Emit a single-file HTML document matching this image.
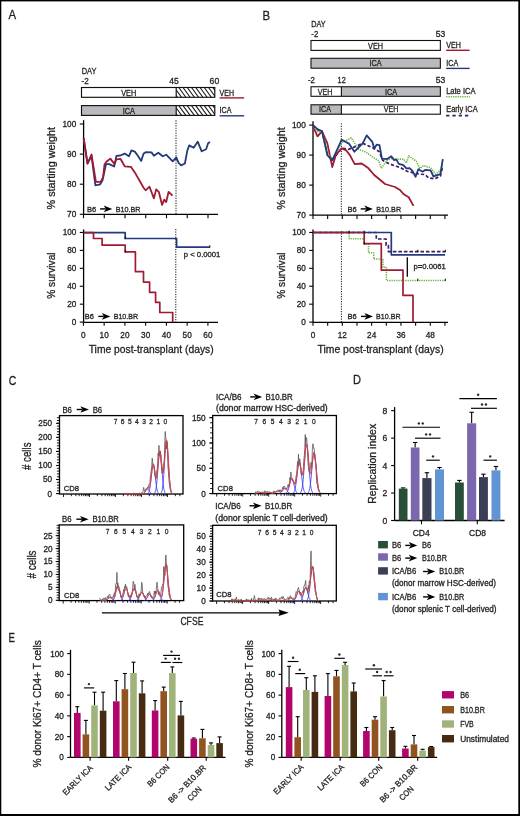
<!DOCTYPE html>
<html><head><meta charset="utf-8"><style>
html,body{margin:0;padding:0;background:#fff;width:520px;height:816px;overflow:hidden}
svg{display:block;font-family:"Liberation Sans",sans-serif;will-change:transform}
text{stroke:#231f20;stroke-width:0.3px}
</style></head><body>
<svg width="520" height="816" viewBox="0 0 520 816">
<rect width="520" height="816" fill="#fff"/>
<rect x="0" y="0" width="520" height="1.4" fill="#000"/>
<rect x="0" y="0" width="1.3" height="816" fill="#000"/>
<rect x="518.3" y="0" width="1.7" height="816" fill="#000"/>
<rect x="0" y="814" width="520" height="2" fill="#000"/>
<text x="8.6" y="19.4" font-size="13" textLength="7.6" lengthAdjust="spacingAndGlyphs" fill="#231f20">A</text>
<text x="262.5" y="19.5" font-size="13" textLength="7.6" lengthAdjust="spacingAndGlyphs" fill="#231f20">B</text>
<text x="8.7" y="384.5" font-size="13" textLength="7.6" lengthAdjust="spacingAndGlyphs" fill="#231f20">C</text>
<text x="353.1" y="384.4" font-size="13" textLength="8.0" lengthAdjust="spacingAndGlyphs" fill="#231f20">D</text>
<text x="8.6" y="642.1" font-size="13" textLength="6.4" lengthAdjust="spacingAndGlyphs" fill="#231f20">E</text>
<defs><pattern id="hat" patternUnits="userSpaceOnUse" width="4.2" height="4.2" patternTransform="rotate(-45)"><rect width="4.2" height="4.2" fill="#fff"/><line x1="0" y1="0" x2="0" y2="4.2" stroke="#222" stroke-width="1.1"/></pattern></defs>
<text x="81.7" y="74.4" font-size="9.2" textLength="14.8" lengthAdjust="spacingAndGlyphs" fill="#231f20">DAY</text>
<text x="81.5" y="84.3" font-size="8.2" textLength="7.2" lengthAdjust="spacingAndGlyphs" fill="#231f20">-2</text>
<text x="173.9" y="84.2" font-size="8.2" text-anchor="middle" textLength="9.5" lengthAdjust="spacingAndGlyphs" fill="#231f20">45</text>
<text x="214.4" y="84.2" font-size="8.2" text-anchor="middle" textLength="9.6" lengthAdjust="spacingAndGlyphs" fill="#231f20">60</text>
<rect x="81.5" y="87.5" width="94.7" height="9.8" fill="#fff"/>
<clipPath id="hc1"><rect x="176.2" y="87.5" width="38.60000000000002" height="9.799999999999997"/></clipPath>
<rect x="176.2" y="87.5" width="38.60000000000002" height="9.799999999999997" fill="#fff"/>
<path clip-path="url(#hc1)" d="M169.90,87.00L177.72,97.80M174.15,87.00L181.97,97.80M178.40,87.00L186.22,97.80M182.65,87.00L190.47,97.80M186.90,87.00L194.72,97.80M191.15,87.00L198.97,97.80M195.40,87.00L203.22,97.80M199.65,87.00L207.47,97.80M203.90,87.00L211.72,97.80M208.15,87.00L215.97,97.80M212.40,87.00L220.22,97.80" stroke="#1a1a1a" stroke-width="1.05" fill="none"/>
<rect x="81.5" y="87.5" width="133.3" height="9.8" fill="none" stroke="#111" stroke-width="1.15"/>
<line x1="176.2" y1="87.5" x2="176.2" y2="97.3" stroke="#111" stroke-width="1.15"/>
<text x="128.7" y="96.2" font-size="8.2" text-anchor="middle" textLength="15" lengthAdjust="spacingAndGlyphs" fill="#231f20">VEH</text>
<rect x="81.5" y="105.6" width="94.7" height="9.8" fill="#bababe"/>
<clipPath id="hc2"><rect x="176.2" y="105.6" width="38.60000000000002" height="9.800000000000011"/></clipPath>
<rect x="176.2" y="105.6" width="38.60000000000002" height="9.800000000000011" fill="#fff"/>
<path clip-path="url(#hc2)" d="M169.90,105.10L177.72,115.90M174.15,105.10L181.97,115.90M178.40,105.10L186.22,115.90M182.65,105.10L190.47,115.90M186.90,105.10L194.72,115.90M191.15,105.10L198.97,115.90M195.40,105.10L203.22,115.90M199.65,105.10L207.47,115.90M203.90,105.10L211.72,115.90M208.15,105.10L215.97,115.90M212.40,105.10L220.22,115.90" stroke="#1a1a1a" stroke-width="1.05" fill="none"/>
<rect x="81.5" y="105.6" width="133.3" height="9.8" fill="none" stroke="#111" stroke-width="1.15"/>
<line x1="176.2" y1="105.6" x2="176.2" y2="115.4" stroke="#111" stroke-width="1.15"/>
<text x="128.8" y="113.8" font-size="8.2" text-anchor="middle" textLength="12.3" lengthAdjust="spacingAndGlyphs" fill="#231f20">ICA</text>
<text x="219.6" y="95.6" font-size="8.2" textLength="14.4" lengthAdjust="spacingAndGlyphs" fill="#231f20">VEH</text>
<line x1="219.6" y1="97.9" x2="244.2" y2="97.9" stroke="#9e1b32" stroke-width="1.4"/>
<text x="219.6" y="112.9" font-size="8.2" textLength="11.9" lengthAdjust="spacingAndGlyphs" fill="#231f20">ICA</text>
<line x1="219.6" y1="115.8" x2="244.2" y2="115.8" stroke="#233a7c" stroke-width="1.4"/>
<line x1="83.6" y1="120.2" x2="83.6" y2="214.3" stroke="#000" stroke-width="1.3"/>
<line x1="83.6" y1="214.3" x2="218" y2="214.3" stroke="#000" stroke-width="1.3"/>
<line x1="79.8" y1="124.0" x2="83.6" y2="124.0" stroke="#000" stroke-width="1.1"/>
<text x="76.3" y="126.9" font-size="8.2" text-anchor="end" textLength="13.8" lengthAdjust="spacingAndGlyphs" fill="#231f20">100</text>
<line x1="79.8" y1="154.1" x2="83.6" y2="154.1" stroke="#000" stroke-width="1.1"/>
<text x="76.3" y="157.0" font-size="8.2" text-anchor="end" textLength="9.2" lengthAdjust="spacingAndGlyphs" fill="#231f20">90</text>
<line x1="79.8" y1="184.2" x2="83.6" y2="184.2" stroke="#000" stroke-width="1.1"/>
<text x="76.3" y="187.1" font-size="8.2" text-anchor="end" textLength="9.2" lengthAdjust="spacingAndGlyphs" fill="#231f20">80</text>
<line x1="79.8" y1="214.3" x2="83.6" y2="214.3" stroke="#000" stroke-width="1.1"/>
<text x="76.3" y="217.20000000000002" font-size="8.2" text-anchor="end" textLength="9.2" lengthAdjust="spacingAndGlyphs" fill="#231f20">70</text>
<line x1="83.5" y1="214.3" x2="83.5" y2="218.2" stroke="#000" stroke-width="1.1"/>
<line x1="104.25" y1="214.3" x2="104.25" y2="218.2" stroke="#000" stroke-width="1.1"/>
<line x1="125.0" y1="214.3" x2="125.0" y2="218.2" stroke="#000" stroke-width="1.1"/>
<line x1="145.75" y1="214.3" x2="145.75" y2="218.2" stroke="#000" stroke-width="1.1"/>
<line x1="166.5" y1="214.3" x2="166.5" y2="218.2" stroke="#000" stroke-width="1.1"/>
<line x1="187.25" y1="214.3" x2="187.25" y2="218.2" stroke="#000" stroke-width="1.1"/>
<line x1="208.0" y1="214.3" x2="208.0" y2="218.2" stroke="#000" stroke-width="1.1"/>
<text x="55.1" y="168.25" font-size="11" text-anchor="middle" textLength="82.5" lengthAdjust="spacingAndGlyphs" transform="rotate(-90 55.1 168.25)" fill="#231f20">% starting weight</text>
<line x1="176" y1="120.2" x2="176" y2="214.3" stroke="#111" stroke-width="1.0" stroke-dasharray="1.2 1.3"/>
<polyline points="83.65,138.20 87.50,163.70 91.50,156.00 95.40,185.30 100.20,184.30 102.60,180.00 106.00,164.10 109.30,164.10 114.10,166.50 116.50,155.80 120.40,155.50 124.70,153.60 128.90,156.30 131.40,150.40 134.80,151.60 137.70,155.50 141.20,160.90 143.60,153.50 146.10,152.10 151.50,152.40 153.90,155.70 158.30,152.70 162.70,156.30 166.20,154.70 172.70,161.30 176.30,157.40 178.70,163.20 181.10,165.40 184.90,163.50 187.30,150.70 189.20,145.40 193.60,147.80 197.70,141.70 201.70,151.30 206.10,149.20 208.00,143.50 209.90,141.80" fill="none" stroke="#233a7c" stroke-width="1.8" stroke-linejoin="round"/>
<polyline points="83.65,138.20 87.50,163.70 91.50,154.50 95.90,181.90 100.70,181.90 103.10,177.10 104.50,164.60 106.40,161.70 110.30,158.60 114.60,164.10 116.30,159.30 120.40,158.80 124.70,166.30 130.90,166.80 135.80,174.10 143.60,187.80 145.60,190.30 149.50,186.70 153.90,198.40 156.20,189.30 158.80,191.80 162.10,205.00 164.20,199.60 166.20,202.10 168.60,191.80 172.50,195.70" fill="none" stroke="#9e1b32" stroke-width="1.8" stroke-linejoin="round"/>
<text x="86.9" y="211.5" font-size="8" textLength="9.2" lengthAdjust="spacingAndGlyphs" fill="#231f20">B6</text>
<line x1="100.1" y1="208.9" x2="105.7" y2="208.9" stroke="#000" stroke-width="1.4"/>
<path d="M112.30,208.90 L103.70,205.60 L105.90,208.90 L103.70,212.20 Z" fill="#000"/>
<text x="115.7" y="211.5" font-size="8" textLength="24.8" lengthAdjust="spacingAndGlyphs" fill="#231f20">B10.BR</text>
<line x1="83.6" y1="229.5" x2="83.6" y2="322.4" stroke="#000" stroke-width="1.3"/>
<line x1="83.6" y1="322.4" x2="218" y2="322.4" stroke="#000" stroke-width="1.3"/>
<line x1="79.8" y1="232.45000000000005" x2="83.6" y2="232.45000000000005" stroke="#000" stroke-width="1.1"/>
<text x="76.3" y="235.35000000000005" font-size="8.2" text-anchor="end" fill="#231f20">100</text>
<line x1="79.8" y1="250.38000000000002" x2="83.6" y2="250.38000000000002" stroke="#000" stroke-width="1.1"/>
<text x="76.3" y="253.28000000000003" font-size="8.2" text-anchor="end" fill="#231f20">80</text>
<line x1="79.8" y1="268.31" x2="83.6" y2="268.31" stroke="#000" stroke-width="1.1"/>
<text x="76.3" y="271.21" font-size="8.2" text-anchor="end" fill="#231f20">60</text>
<line x1="79.8" y1="286.24" x2="83.6" y2="286.24" stroke="#000" stroke-width="1.1"/>
<text x="76.3" y="289.14" font-size="8.2" text-anchor="end" fill="#231f20">40</text>
<line x1="79.8" y1="304.17" x2="83.6" y2="304.17" stroke="#000" stroke-width="1.1"/>
<text x="76.3" y="307.07" font-size="8.2" text-anchor="end" fill="#231f20">20</text>
<line x1="79.8" y1="322.1" x2="83.6" y2="322.1" stroke="#000" stroke-width="1.1"/>
<text x="76.3" y="325.0" font-size="8.2" text-anchor="end" fill="#231f20">0</text>
<line x1="83.4" y1="322.4" x2="83.4" y2="325.8" stroke="#000" stroke-width="1.1"/>
<text x="83.4" y="337.5" font-size="8.2" text-anchor="middle" fill="#231f20">0</text>
<line x1="104.15" y1="322.4" x2="104.15" y2="325.8" stroke="#000" stroke-width="1.1"/>
<text x="104.15" y="337.5" font-size="8.2" text-anchor="middle" fill="#231f20">10</text>
<line x1="124.9" y1="322.4" x2="124.9" y2="325.8" stroke="#000" stroke-width="1.1"/>
<text x="124.9" y="337.5" font-size="8.2" text-anchor="middle" fill="#231f20">20</text>
<line x1="145.65" y1="322.4" x2="145.65" y2="325.8" stroke="#000" stroke-width="1.1"/>
<text x="145.65" y="337.5" font-size="8.2" text-anchor="middle" fill="#231f20">30</text>
<line x1="166.4" y1="322.4" x2="166.4" y2="325.8" stroke="#000" stroke-width="1.1"/>
<text x="166.4" y="337.5" font-size="8.2" text-anchor="middle" fill="#231f20">40</text>
<line x1="187.15" y1="322.4" x2="187.15" y2="325.8" stroke="#000" stroke-width="1.1"/>
<text x="187.15" y="337.5" font-size="8.2" text-anchor="middle" fill="#231f20">50</text>
<line x1="207.9" y1="322.4" x2="207.9" y2="325.8" stroke="#000" stroke-width="1.1"/>
<text x="207.9" y="337.5" font-size="8.2" text-anchor="middle" fill="#231f20">60</text>
<text x="151.2" y="352.6" font-size="11" text-anchor="middle" textLength="125" lengthAdjust="spacingAndGlyphs" fill="#231f20">Time post-transplant (days)</text>
<text x="55.1" y="275.6" font-size="11" text-anchor="middle" textLength="46.3" lengthAdjust="spacingAndGlyphs" transform="rotate(-90 55.1 275.6)" fill="#231f20">% survival</text>
<line x1="175.8" y1="229" x2="175.8" y2="322.4" stroke="#111" stroke-width="1.0" stroke-dasharray="1.2 1.3"/>
<polyline points="83.60,232.70 125.20,232.70 125.20,238.50 176.60,238.50 176.60,247.10 209.80,247.10" fill="none" stroke="#233a7c" stroke-width="1.7" stroke-linejoin="round"/>
<polyline points="83.60,232.70 93.50,232.70 93.50,238.50 102.10,238.50 102.10,245.20 125.20,245.20 125.20,251.90 135.40,251.90 135.40,271.70 143.50,271.70 143.50,282.10 149.60,282.10 149.60,292.30 155.60,292.30 155.60,302.30 159.80,302.30 159.80,312.50 172.70,312.50 172.70,322.30" fill="none" stroke="#9e1b32" stroke-width="1.7" stroke-linejoin="round"/>
<text x="183.8" y="257.1" font-size="7.6" textLength="36.6" lengthAdjust="spacingAndGlyphs" fill="#231f20">p &lt; 0.0001</text>
<line x1="125.2" y1="236.7" x2="125.2" y2="239.1" stroke="#000" stroke-width="1.0"/>
<line x1="125.2" y1="250.1" x2="125.2" y2="252.5" stroke="#000" stroke-width="1.0"/>
<line x1="209.8" y1="245.29999999999998" x2="209.8" y2="247.7" stroke="#000" stroke-width="1.0"/>
<text x="84.8" y="319.2" font-size="8" textLength="9.2" lengthAdjust="spacingAndGlyphs" fill="#231f20">B6</text>
<line x1="98.3" y1="316.4" x2="103.80000000000001" y2="316.4" stroke="#000" stroke-width="1.4"/>
<path d="M110.40,316.40 L101.80,313.10 L104.00,316.40 L101.80,319.70 Z" fill="#000"/>
<text x="113.7" y="319.2" font-size="8" textLength="24.4" lengthAdjust="spacingAndGlyphs" fill="#231f20">B10.BR</text>
<text x="311.3" y="26.6" font-size="9.2" textLength="14.4" lengthAdjust="spacingAndGlyphs" fill="#231f20">DAY</text>
<text x="311.3" y="37.1" font-size="8.2" textLength="6.9" lengthAdjust="spacingAndGlyphs" fill="#231f20">-2</text>
<text x="440.5" y="37.1" font-size="8.2" text-anchor="middle" textLength="9.5" lengthAdjust="spacingAndGlyphs" fill="#231f20">53</text>
<rect x="311.0" y="40.5" width="129.35" height="9.9" fill="#fff" stroke="#111" stroke-width="1.1"/>
<text x="375.6" y="48.6" font-size="8.2" text-anchor="middle" textLength="15" lengthAdjust="spacingAndGlyphs" fill="#231f20">VEH</text>
<rect x="311.0" y="58.3" width="129.35" height="9.9" fill="#bababe" stroke="#111" stroke-width="1.1"/>
<text x="375.6" y="66.2" font-size="8.2" text-anchor="middle" textLength="12.2" lengthAdjust="spacingAndGlyphs" fill="#231f20">ICA</text>
<text x="446.2" y="47.8" font-size="8.2" textLength="14.6" lengthAdjust="spacingAndGlyphs" fill="#231f20">VEH</text>
<line x1="446.1" y1="50.3" x2="469.6" y2="50.3" stroke="#9e1b32" stroke-width="1.4"/>
<text x="446.2" y="65.8" font-size="8.2" textLength="12.0" lengthAdjust="spacingAndGlyphs" fill="#231f20">ICA</text>
<line x1="446.1" y1="68.4" x2="469.6" y2="68.4" stroke="#233a7c" stroke-width="1.4"/>
<text x="308.0" y="83.2" font-size="8.2" textLength="6.9" lengthAdjust="spacingAndGlyphs" fill="#231f20">-2</text>
<text x="337.6" y="83.2" font-size="8.2" textLength="8.1" lengthAdjust="spacingAndGlyphs" fill="#231f20">12</text>
<text x="440.5" y="83.2" font-size="8.2" text-anchor="middle" textLength="9.5" lengthAdjust="spacingAndGlyphs" fill="#231f20">53</text>
<rect x="311.0" y="86.75" width="30.4" height="9.55" fill="#fff"/>
<rect x="341.4" y="86.75" width="98.95" height="9.55" fill="#bababe"/>
<rect x="311.0" y="86.75" width="129.35" height="9.55" fill="none" stroke="#111" stroke-width="1.1"/>
<line x1="341.4" y1="86.75" x2="341.4" y2="96.3" stroke="#111" stroke-width="1.1"/>
<text x="325.1" y="95.0" font-size="8.2" text-anchor="middle" textLength="14.6" lengthAdjust="spacingAndGlyphs" fill="#231f20">VEH</text>
<text x="391.0" y="95.0" font-size="8.2" text-anchor="middle" textLength="12.2" lengthAdjust="spacingAndGlyphs" fill="#231f20">ICA</text>
<rect x="311.0" y="104.8" width="30.4" height="9.4" fill="#bababe"/>
<rect x="341.4" y="104.8" width="98.95" height="9.4" fill="#fff"/>
<rect x="311.0" y="104.8" width="129.35" height="9.4" fill="none" stroke="#111" stroke-width="1.1"/>
<line x1="341.4" y1="104.8" x2="341.4" y2="114.2" stroke="#111" stroke-width="1.1"/>
<text x="325.0" y="112.4" font-size="8.2" text-anchor="middle" textLength="11.9" lengthAdjust="spacingAndGlyphs" fill="#231f20">ICA</text>
<text x="391.0" y="112.4" font-size="8.2" text-anchor="middle" textLength="14.6" lengthAdjust="spacingAndGlyphs" fill="#231f20">VEH</text>
<text x="446.2" y="94.1" font-size="8.2" textLength="29.2" lengthAdjust="spacingAndGlyphs" fill="#231f20">Late ICA</text>
<line x1="446.1" y1="96.7" x2="470" y2="96.7" stroke="#6db443" stroke-width="1.5" stroke-dasharray="1.3 1.0"/>
<text x="446.2" y="112.2" font-size="8.2" textLength="31.5" lengthAdjust="spacingAndGlyphs" fill="#231f20">Early ICA</text>
<line x1="446.1" y1="115.7" x2="469.5" y2="115.7" stroke="#3d1c63" stroke-width="1.7" stroke-dasharray="3.3 3.0"/>
<line x1="313.0" y1="121.2" x2="313.0" y2="215.1" stroke="#000" stroke-width="1.3"/>
<line x1="313.0" y1="215.1" x2="448" y2="215.1" stroke="#000" stroke-width="1.3"/>
<line x1="309.2" y1="125.1" x2="313.0" y2="125.1" stroke="#000" stroke-width="1.1"/>
<text x="305.8" y="128.0" font-size="8.2" text-anchor="end" textLength="13.8" lengthAdjust="spacingAndGlyphs" fill="#231f20">100</text>
<line x1="309.2" y1="155.1" x2="313.0" y2="155.1" stroke="#000" stroke-width="1.1"/>
<text x="305.8" y="158.0" font-size="8.2" text-anchor="end" textLength="9.2" lengthAdjust="spacingAndGlyphs" fill="#231f20">90</text>
<line x1="309.2" y1="185.1" x2="313.0" y2="185.1" stroke="#000" stroke-width="1.1"/>
<text x="305.8" y="188.0" font-size="8.2" text-anchor="end" textLength="9.2" lengthAdjust="spacingAndGlyphs" fill="#231f20">80</text>
<line x1="309.2" y1="215.1" x2="313.0" y2="215.1" stroke="#000" stroke-width="1.1"/>
<text x="305.8" y="218.0" font-size="8.2" text-anchor="end" textLength="9.2" lengthAdjust="spacingAndGlyphs" fill="#231f20">70</text>
<line x1="313.0" y1="215.1" x2="313.0" y2="219" stroke="#000" stroke-width="1.1"/>
<line x1="327.66" y1="215.1" x2="327.66" y2="219" stroke="#000" stroke-width="1.1"/>
<line x1="342.32" y1="215.1" x2="342.32" y2="219" stroke="#000" stroke-width="1.1"/>
<line x1="356.98" y1="215.1" x2="356.98" y2="219" stroke="#000" stroke-width="1.1"/>
<line x1="371.64" y1="215.1" x2="371.64" y2="219" stroke="#000" stroke-width="1.1"/>
<line x1="386.3" y1="215.1" x2="386.3" y2="219" stroke="#000" stroke-width="1.1"/>
<line x1="400.96000000000004" y1="215.1" x2="400.96000000000004" y2="219" stroke="#000" stroke-width="1.1"/>
<line x1="415.62" y1="215.1" x2="415.62" y2="219" stroke="#000" stroke-width="1.1"/>
<line x1="430.28" y1="215.1" x2="430.28" y2="219" stroke="#000" stroke-width="1.1"/>
<line x1="444.94" y1="215.1" x2="444.94" y2="219" stroke="#000" stroke-width="1.1"/>
<text x="284.6" y="168.4" font-size="11" text-anchor="middle" textLength="82.5" lengthAdjust="spacingAndGlyphs" transform="rotate(-90 284.6 168.4)" fill="#231f20">% starting weight</text>
<line x1="341.3" y1="123.4" x2="341.3" y2="215.1" stroke="#111" stroke-width="1.0" stroke-dasharray="1.2 1.3"/>
<polyline points="312.90,125.50 318.20,130.00 322.00,131.20 327.30,154.00 332.30,160.00 341.70,148.20 348.50,149.30 352.30,147.90 362.70,143.30 372.30,147.60 379.00,151.40 382.90,160.60 389.60,163.90 396.30,166.30 400.00,167.40 407.20,171.30 419.20,174.10 425.00,174.60 428.80,178.00 434.60,178.90 440.40,176.10 442.80,166.00" fill="none" stroke="#3d1c63" stroke-width="1.7" stroke-linejoin="round" stroke-dasharray="3.3 2.0" stroke-linejoin="miter"/>
<polyline points="312.90,125.80 317.50,136.30 322.00,131.30 327.30,143.10 332.30,167.10 336.00,154.60 341.70,148.40 346.10,150.30 349.90,155.10 354.70,164.20 361.70,163.50 368.50,168.30 374.20,175.00 380.00,179.80 385.00,184.00 395.00,187.00 400.00,190.00 403.80,194.30 408.70,197.20 413.50,205.90" fill="none" stroke="#9e1b32" stroke-width="1.8" stroke-linejoin="round"/>
<polyline points="312.90,125.80 318.70,132.50 322.00,131.50 328.30,153.70 332.30,159.40 341.70,142.60 351.30,137.80 355.70,145.00 358.80,149.50 365.60,151.90 372.30,156.70 379.00,161.10 381.40,168.30 386.70,160.60 392.00,158.20 398.30,159.10 403.80,159.20 406.30,163.10 408.70,155.90 416.30,161.20 419.70,168.40 423.60,165.50 430.80,167.90 435.60,174.10 440.40,170.30 442.30,165.50" fill="none" stroke="#6db443" stroke-width="1.6" stroke-linejoin="round" stroke-dasharray="1.3 1.0"/>
<polyline points="312.90,125.30 318.20,129.60 322.00,131.10 327.30,155.10 332.30,160.40 341.70,139.70 348.90,143.60 354.40,151.70 362.70,143.30 366.70,135.40 372.30,141.80 374.20,148.60 376.60,144.70 379.50,145.20 381.90,158.70 387.20,159.10 391.30,156.30 393.90,160.10 396.30,159.60 398.80,163.90 403.40,165.20 406.30,168.40 409.60,168.10 412.00,170.30 415.60,176.70 418.30,169.30 422.60,171.70 425.50,169.80 430.60,170.30 433.50,176.50 435.60,175.60 440.40,174.10 442.80,159.20" fill="none" stroke="#233a7c" stroke-width="1.8" stroke-linejoin="round"/>
<text x="347.5" y="211.6" font-size="8" textLength="9.2" lengthAdjust="spacingAndGlyphs" fill="#231f20">B6</text>
<line x1="360.7" y1="208.9" x2="366.29999999999995" y2="208.9" stroke="#000" stroke-width="1.4"/>
<path d="M372.90,208.90 L364.30,205.60 L366.50,208.90 L364.30,212.20 Z" fill="#000"/>
<text x="376.3" y="211.6" font-size="8" textLength="24.8" lengthAdjust="spacingAndGlyphs" fill="#231f20">B10.BR</text>
<line x1="313.0" y1="229.5" x2="313.0" y2="322.4" stroke="#000" stroke-width="1.3"/>
<line x1="313.0" y1="322.4" x2="448" y2="322.4" stroke="#000" stroke-width="1.3"/>
<line x1="309.2" y1="232.45000000000005" x2="313.0" y2="232.45000000000005" stroke="#000" stroke-width="1.1"/>
<text x="305.8" y="235.35000000000005" font-size="8.2" text-anchor="end" fill="#231f20">100</text>
<line x1="309.2" y1="250.38000000000002" x2="313.0" y2="250.38000000000002" stroke="#000" stroke-width="1.1"/>
<text x="305.8" y="253.28000000000003" font-size="8.2" text-anchor="end" fill="#231f20">80</text>
<line x1="309.2" y1="268.31" x2="313.0" y2="268.31" stroke="#000" stroke-width="1.1"/>
<text x="305.8" y="271.21" font-size="8.2" text-anchor="end" fill="#231f20">60</text>
<line x1="309.2" y1="286.24" x2="313.0" y2="286.24" stroke="#000" stroke-width="1.1"/>
<text x="305.8" y="289.14" font-size="8.2" text-anchor="end" fill="#231f20">40</text>
<line x1="309.2" y1="304.17" x2="313.0" y2="304.17" stroke="#000" stroke-width="1.1"/>
<text x="305.8" y="307.07" font-size="8.2" text-anchor="end" fill="#231f20">20</text>
<line x1="309.2" y1="322.1" x2="313.0" y2="322.1" stroke="#000" stroke-width="1.1"/>
<text x="305.8" y="325.0" font-size="8.2" text-anchor="end" fill="#231f20">0</text>
<line x1="313.0" y1="322.4" x2="313.0" y2="325.8" stroke="#000" stroke-width="1.1"/>
<text x="313.0" y="337.5" font-size="8.2" text-anchor="middle" fill="#231f20">0</text>
<line x1="327.66" y1="322.4" x2="327.66" y2="325.8" stroke="#000" stroke-width="1.1"/>
<line x1="342.32" y1="322.4" x2="342.32" y2="325.8" stroke="#000" stroke-width="1.1"/>
<text x="342.32" y="337.5" font-size="8.2" text-anchor="middle" fill="#231f20">12</text>
<line x1="356.98" y1="322.4" x2="356.98" y2="325.8" stroke="#000" stroke-width="1.1"/>
<line x1="371.64" y1="322.4" x2="371.64" y2="325.8" stroke="#000" stroke-width="1.1"/>
<text x="371.64" y="337.5" font-size="8.2" text-anchor="middle" fill="#231f20">24</text>
<line x1="386.3" y1="322.4" x2="386.3" y2="325.8" stroke="#000" stroke-width="1.1"/>
<line x1="400.96000000000004" y1="322.4" x2="400.96000000000004" y2="325.8" stroke="#000" stroke-width="1.1"/>
<text x="400.96000000000004" y="337.5" font-size="8.2" text-anchor="middle" fill="#231f20">36</text>
<line x1="415.62" y1="322.4" x2="415.62" y2="325.8" stroke="#000" stroke-width="1.1"/>
<line x1="430.28" y1="322.4" x2="430.28" y2="325.8" stroke="#000" stroke-width="1.1"/>
<text x="430.28" y="337.5" font-size="8.2" text-anchor="middle" fill="#231f20">48</text>
<line x1="444.94" y1="322.4" x2="444.94" y2="325.8" stroke="#000" stroke-width="1.1"/>
<text x="380.6" y="352.6" font-size="11" text-anchor="middle" textLength="126.2" lengthAdjust="spacingAndGlyphs" fill="#231f20">Time post-transplant (days)</text>
<text x="284.6" y="275.6" font-size="11" text-anchor="middle" textLength="46.3" lengthAdjust="spacingAndGlyphs" transform="rotate(-90 284.6 275.6)" fill="#231f20">% survival</text>
<line x1="341.4" y1="231" x2="341.4" y2="322.4" stroke="#111" stroke-width="1.0" stroke-dasharray="1.2 1.3"/>
<polyline points="313.00,232.50 349.20,232.50 349.20,238.70 364.20,238.70 364.20,244.10 368.50,244.10 368.50,252.80 373.70,252.80 373.70,259.10 383.00,259.10 383.00,267.20 386.40,267.20 386.40,280.50 445.10,280.50" fill="none" stroke="#6db443" stroke-width="1.5" stroke-linejoin="round" stroke-dasharray="1.3 1.0"/>
<polyline points="313.00,232.50 376.30,232.50 376.30,239.00 386.10,239.00 386.10,245.30 388.40,245.30 388.40,251.60 445.10,251.60" fill="none" stroke="#3d1c63" stroke-width="1.7" stroke-linejoin="round" stroke-dasharray="3.6 1.9" stroke-linejoin="miter"/>
<polyline points="313.00,232.50 391.30,232.50 391.30,254.80 445.10,254.80" fill="none" stroke="#233a7c" stroke-width="1.7" stroke-linejoin="round"/>
<polyline points="313.00,232.50 364.20,232.50 364.20,243.60 381.30,243.60 381.30,270.10 403.00,270.10 403.00,295.40 413.00,295.40 413.00,322.30" fill="none" stroke="#9e1b32" stroke-width="1.7" stroke-linejoin="round"/>
<line x1="407.3" y1="257.2" x2="407.3" y2="276.8" stroke="#000" stroke-width="1.3"/>
<text x="413.6" y="269.4" font-size="7.6" textLength="32.2" lengthAdjust="spacingAndGlyphs" fill="#231f20">p=0.0061</text>
<text x="347.5" y="319.2" font-size="8" textLength="9.2" lengthAdjust="spacingAndGlyphs" fill="#231f20">B6</text>
<line x1="361.0" y1="316.4" x2="366.4" y2="316.4" stroke="#000" stroke-width="1.4"/>
<path d="M373.00,316.40 L364.40,313.10 L366.60,316.40 L364.40,319.70 Z" fill="#000"/>
<text x="376.1" y="319.2" font-size="8" textLength="24.4" lengthAdjust="spacingAndGlyphs" fill="#231f20">B10.BR</text>
<line x1="349.2" y1="230.7" x2="349.2" y2="233.1" stroke="#000" stroke-width="1.0"/>
<line x1="364.2" y1="230.7" x2="364.2" y2="233.1" stroke="#000" stroke-width="1.0"/>
<line x1="364.2" y1="242.29999999999998" x2="364.2" y2="244.7" stroke="#000" stroke-width="1.0"/>
<line x1="417.8" y1="249.79999999999998" x2="417.8" y2="252.2" stroke="#000" stroke-width="1.0"/>
<line x1="445.3" y1="249.79999999999998" x2="445.3" y2="252.2" stroke="#000" stroke-width="1.0"/>
<line x1="417.8" y1="278.7" x2="417.8" y2="281.1" stroke="#000" stroke-width="1.0"/>
<line x1="445.3" y1="278.7" x2="445.3" y2="281.1" stroke="#000" stroke-width="1.0"/>
<text x="62.4" y="412.5" font-size="8.2" textLength="9.5" lengthAdjust="spacingAndGlyphs" fill="#231f20">B6</text>
<line x1="76.7" y1="409.5" x2="82.30000000000001" y2="409.5" stroke="#000" stroke-width="1.4"/>
<path d="M88.90,409.50 L80.30,406.20 L82.50,409.50 L80.30,412.80 Z" fill="#000"/>
<text x="92.7" y="412.5" font-size="8.2" textLength="9.5" lengthAdjust="spacingAndGlyphs" fill="#231f20">B6</text>
<rect x="59.5" y="415.6" width="123.5" height="78.39999999999998" fill="#fff" stroke="#000" stroke-width="1.3"/>
<line x1="56.0" y1="493.6" x2="59.5" y2="493.6" stroke="#000" stroke-width="1.0"/>
<text x="52.0" y="496.5" font-size="8.2" text-anchor="end" fill="#231f20">0</text>
<line x1="56.0" y1="479.54" x2="59.5" y2="479.54" stroke="#000" stroke-width="1.0"/>
<text x="52.0" y="482.44" font-size="8.2" text-anchor="end" fill="#231f20">50</text>
<line x1="56.0" y1="465.48" x2="59.5" y2="465.48" stroke="#000" stroke-width="1.0"/>
<text x="52.0" y="468.38" font-size="8.2" text-anchor="end" fill="#231f20">100</text>
<line x1="56.0" y1="451.42" x2="59.5" y2="451.42" stroke="#000" stroke-width="1.0"/>
<text x="52.0" y="454.32" font-size="8.2" text-anchor="end" fill="#231f20">150</text>
<line x1="56.0" y1="437.36" x2="59.5" y2="437.36" stroke="#000" stroke-width="1.0"/>
<text x="52.0" y="440.26" font-size="8.2" text-anchor="end" fill="#231f20">200</text>
<line x1="56.0" y1="423.3" x2="59.5" y2="423.3" stroke="#000" stroke-width="1.0"/>
<text x="52.0" y="426.2" font-size="8.2" text-anchor="end" fill="#231f20">250</text>
<line x1="56.9" y1="493.6" x2="59.5" y2="493.6" stroke="#000" stroke-width="0.9"/>
<line x1="56.9" y1="490.788" x2="59.5" y2="490.788" stroke="#000" stroke-width="0.9"/>
<line x1="56.9" y1="487.976" x2="59.5" y2="487.976" stroke="#000" stroke-width="0.9"/>
<line x1="56.9" y1="485.164" x2="59.5" y2="485.164" stroke="#000" stroke-width="0.9"/>
<line x1="56.9" y1="482.352" x2="59.5" y2="482.352" stroke="#000" stroke-width="0.9"/>
<line x1="56.9" y1="479.53999999999996" x2="59.5" y2="479.53999999999996" stroke="#000" stroke-width="0.9"/>
<line x1="56.9" y1="476.72799999999995" x2="59.5" y2="476.72799999999995" stroke="#000" stroke-width="0.9"/>
<line x1="56.9" y1="473.91599999999994" x2="59.5" y2="473.91599999999994" stroke="#000" stroke-width="0.9"/>
<line x1="56.9" y1="471.1039999999999" x2="59.5" y2="471.1039999999999" stroke="#000" stroke-width="0.9"/>
<line x1="56.9" y1="468.2919999999999" x2="59.5" y2="468.2919999999999" stroke="#000" stroke-width="0.9"/>
<line x1="56.9" y1="465.4799999999999" x2="59.5" y2="465.4799999999999" stroke="#000" stroke-width="0.9"/>
<line x1="56.9" y1="462.6679999999999" x2="59.5" y2="462.6679999999999" stroke="#000" stroke-width="0.9"/>
<line x1="56.9" y1="459.8559999999999" x2="59.5" y2="459.8559999999999" stroke="#000" stroke-width="0.9"/>
<line x1="56.9" y1="457.04399999999987" x2="59.5" y2="457.04399999999987" stroke="#000" stroke-width="0.9"/>
<line x1="56.9" y1="454.23199999999986" x2="59.5" y2="454.23199999999986" stroke="#000" stroke-width="0.9"/>
<line x1="56.9" y1="451.41999999999985" x2="59.5" y2="451.41999999999985" stroke="#000" stroke-width="0.9"/>
<line x1="56.9" y1="448.60799999999983" x2="59.5" y2="448.60799999999983" stroke="#000" stroke-width="0.9"/>
<line x1="56.9" y1="445.7959999999998" x2="59.5" y2="445.7959999999998" stroke="#000" stroke-width="0.9"/>
<line x1="56.9" y1="442.9839999999998" x2="59.5" y2="442.9839999999998" stroke="#000" stroke-width="0.9"/>
<line x1="56.9" y1="440.1719999999998" x2="59.5" y2="440.1719999999998" stroke="#000" stroke-width="0.9"/>
<line x1="56.9" y1="437.3599999999998" x2="59.5" y2="437.3599999999998" stroke="#000" stroke-width="0.9"/>
<line x1="56.9" y1="434.5479999999998" x2="59.5" y2="434.5479999999998" stroke="#000" stroke-width="0.9"/>
<line x1="56.9" y1="431.73599999999976" x2="59.5" y2="431.73599999999976" stroke="#000" stroke-width="0.9"/>
<line x1="56.9" y1="428.92399999999975" x2="59.5" y2="428.92399999999975" stroke="#000" stroke-width="0.9"/>
<line x1="56.9" y1="426.11199999999974" x2="59.5" y2="426.11199999999974" stroke="#000" stroke-width="0.9"/>
<line x1="56.9" y1="423.2999999999997" x2="59.5" y2="423.2999999999997" stroke="#000" stroke-width="0.9"/>
<line x1="56.9" y1="420.4879999999997" x2="59.5" y2="420.4879999999997" stroke="#000" stroke-width="0.9"/>
<line x1="56.9" y1="417.6759999999997" x2="59.5" y2="417.6759999999997" stroke="#000" stroke-width="0.9"/>
<line x1="63.5" y1="494.0" x2="63.5" y2="497.0" stroke="#000" stroke-width="0.85"/>
<line x1="71.32677988726351" y1="494.0" x2="71.32677988726351" y2="496.2" stroke="#000" stroke-width="0.85"/>
<line x1="75.90515262271123" y1="494.0" x2="75.90515262271123" y2="496.2" stroke="#000" stroke-width="0.85"/>
<line x1="79.15355977452703" y1="494.0" x2="79.15355977452703" y2="496.2" stroke="#000" stroke-width="0.85"/>
<line x1="81.67322011273649" y1="494.0" x2="81.67322011273649" y2="496.2" stroke="#000" stroke-width="0.85"/>
<line x1="83.73193250997474" y1="494.0" x2="83.73193250997474" y2="496.2" stroke="#000" stroke-width="0.85"/>
<line x1="85.47254904037068" y1="494.0" x2="85.47254904037068" y2="496.2" stroke="#000" stroke-width="0.85"/>
<line x1="86.98033966179054" y1="494.0" x2="86.98033966179054" y2="496.2" stroke="#000" stroke-width="0.85"/>
<line x1="88.31030524542246" y1="494.0" x2="88.31030524542246" y2="496.2" stroke="#000" stroke-width="0.85"/>
<line x1="89.5" y1="494.0" x2="89.5" y2="497.0" stroke="#000" stroke-width="0.85"/>
<line x1="97.32677988726351" y1="494.0" x2="97.32677988726351" y2="496.2" stroke="#000" stroke-width="0.85"/>
<line x1="101.90515262271123" y1="494.0" x2="101.90515262271123" y2="496.2" stroke="#000" stroke-width="0.85"/>
<line x1="105.15355977452703" y1="494.0" x2="105.15355977452703" y2="496.2" stroke="#000" stroke-width="0.85"/>
<line x1="107.67322011273649" y1="494.0" x2="107.67322011273649" y2="496.2" stroke="#000" stroke-width="0.85"/>
<line x1="109.73193250997474" y1="494.0" x2="109.73193250997474" y2="496.2" stroke="#000" stroke-width="0.85"/>
<line x1="111.47254904037068" y1="494.0" x2="111.47254904037068" y2="496.2" stroke="#000" stroke-width="0.85"/>
<line x1="112.98033966179054" y1="494.0" x2="112.98033966179054" y2="496.2" stroke="#000" stroke-width="0.85"/>
<line x1="114.31030524542246" y1="494.0" x2="114.31030524542246" y2="496.2" stroke="#000" stroke-width="0.85"/>
<line x1="115.5" y1="494.0" x2="115.5" y2="497.0" stroke="#000" stroke-width="0.85"/>
<line x1="123.32677988726351" y1="494.0" x2="123.32677988726351" y2="496.2" stroke="#000" stroke-width="0.85"/>
<line x1="127.90515262271123" y1="494.0" x2="127.90515262271123" y2="496.2" stroke="#000" stroke-width="0.85"/>
<line x1="131.15355977452703" y1="494.0" x2="131.15355977452703" y2="496.2" stroke="#000" stroke-width="0.85"/>
<line x1="133.6732201127365" y1="494.0" x2="133.6732201127365" y2="496.2" stroke="#000" stroke-width="0.85"/>
<line x1="135.73193250997474" y1="494.0" x2="135.73193250997474" y2="496.2" stroke="#000" stroke-width="0.85"/>
<line x1="137.47254904037067" y1="494.0" x2="137.47254904037067" y2="496.2" stroke="#000" stroke-width="0.85"/>
<line x1="138.98033966179054" y1="494.0" x2="138.98033966179054" y2="496.2" stroke="#000" stroke-width="0.85"/>
<line x1="140.31030524542246" y1="494.0" x2="140.31030524542246" y2="496.2" stroke="#000" stroke-width="0.85"/>
<line x1="141.5" y1="494.0" x2="141.5" y2="497.0" stroke="#000" stroke-width="0.85"/>
<line x1="149.3267798872635" y1="494.0" x2="149.3267798872635" y2="496.2" stroke="#000" stroke-width="0.85"/>
<line x1="153.90515262271123" y1="494.0" x2="153.90515262271123" y2="496.2" stroke="#000" stroke-width="0.85"/>
<line x1="157.15355977452703" y1="494.0" x2="157.15355977452703" y2="496.2" stroke="#000" stroke-width="0.85"/>
<line x1="159.6732201127365" y1="494.0" x2="159.6732201127365" y2="496.2" stroke="#000" stroke-width="0.85"/>
<line x1="161.73193250997474" y1="494.0" x2="161.73193250997474" y2="496.2" stroke="#000" stroke-width="0.85"/>
<line x1="163.47254904037067" y1="494.0" x2="163.47254904037067" y2="496.2" stroke="#000" stroke-width="0.85"/>
<line x1="164.98033966179054" y1="494.0" x2="164.98033966179054" y2="496.2" stroke="#000" stroke-width="0.85"/>
<line x1="166.31030524542246" y1="494.0" x2="166.31030524542246" y2="496.2" stroke="#000" stroke-width="0.85"/>
<line x1="167.5" y1="494.0" x2="167.5" y2="497.0" stroke="#000" stroke-width="0.85"/>
<line x1="175.3267798872635" y1="494.0" x2="175.3267798872635" y2="496.2" stroke="#000" stroke-width="0.85"/>
<line x1="179.90515262271123" y1="494.0" x2="179.90515262271123" y2="496.2" stroke="#000" stroke-width="0.85"/>
<polyline points="160.50,493.63 161.00,493.18 161.50,492.31 162.00,490.73 162.50,488.11 163.00,484.10 163.50,478.48 164.00,471.28 164.50,462.97 165.00,454.46 165.50,446.98 166.00,441.84 166.50,440.00 167.00,441.84 167.50,446.98 168.00,454.46 168.50,462.97 169.00,471.28 169.50,478.48 170.00,484.10 170.50,488.11 171.00,490.73 171.50,492.31 172.00,493.18 172.50,493.63" fill="none" stroke="#3434f0" stroke-width="0.8" stroke-linejoin="round"/>
<polyline points="154.00,493.65 154.50,493.24 155.00,492.45 155.50,491.06 156.00,488.77 156.50,485.33 157.00,480.58 157.50,474.64 158.00,467.92 158.50,461.22 159.00,455.56 159.50,451.94 160.00,451.06 160.50,453.09 161.00,457.63 161.50,463.84 162.00,470.65 162.50,477.14 163.00,482.64 163.50,486.86 164.00,489.81 164.50,491.71 165.00,492.83 165.50,493.44" fill="none" stroke="#3434f0" stroke-width="0.8" stroke-linejoin="round"/>
<polyline points="147.50,493.72 148.00,493.39 148.50,492.77 149.00,491.68 149.50,489.94 150.00,487.36 150.50,483.87 151.00,479.58 151.50,474.85 152.00,470.26 152.50,466.54 153.00,464.37 153.50,464.17 154.00,465.97 154.50,469.42 155.00,473.90 155.50,478.65 156.00,483.07 156.50,486.74 157.00,489.50 157.50,491.39 158.00,492.59 158.50,493.29 159.00,493.67" fill="none" stroke="#3434f0" stroke-width="0.8" stroke-linejoin="round"/>
<polyline points="141.50,493.97 142.00,493.92 142.50,493.84 143.00,493.70 143.50,493.45 144.00,493.08 144.50,492.56 145.00,491.90 145.50,491.13 146.00,490.34 146.50,489.65 147.00,489.17 147.50,489.00 148.00,489.17 148.50,489.65 149.00,490.34 149.50,491.13 150.00,491.90 150.50,492.56 151.00,493.08 151.50,493.45 152.00,493.70 152.50,493.84 153.00,493.92 153.50,493.97" fill="none" stroke="#3434f0" stroke-width="0.8" stroke-linejoin="round"/>
<polyline points="123.40,493.74 123.85,493.64 124.30,493.95 124.75,493.23 125.20,493.09 125.65,493.67 126.10,493.31 126.55,493.81 127.00,493.80 127.45,493.20 127.90,493.90 128.35,493.96 128.80,493.52 129.25,493.85 129.70,493.51 130.15,493.88 130.60,494.00 131.05,493.85 131.50,493.97 131.95,493.07 132.40,493.54 132.85,493.74 133.30,493.30 133.75,493.43 134.20,493.65 134.65,494.00 135.10,493.58 135.55,493.91 136.00,493.56 136.45,493.45 136.90,493.67 137.35,493.74 137.80,493.64 138.25,493.85 138.70,493.58 139.15,493.72 139.60,492.94 140.05,493.25 140.50,493.49 140.95,493.42 141.40,493.68 141.85,492.49 142.30,493.05 142.75,492.67 143.20,490.65 143.65,487.36 144.10,489.61 144.55,491.34 145.00,490.12 145.45,489.27 145.90,489.38 146.35,488.34 146.80,488.76 147.25,488.10 147.70,486.95 148.15,487.81 148.60,486.17 149.05,484.41 149.50,483.21 149.95,482.43 150.40,475.93 150.85,473.44 151.30,469.37 151.75,465.63 152.20,458.18 152.65,461.25 153.10,467.47 153.55,467.72 154.00,467.70 154.45,470.98 154.90,476.24 155.35,476.40 155.80,478.78 156.25,477.84 156.70,470.82 157.15,469.71 157.60,463.45 158.05,453.33 158.50,455.71 158.95,445.40 159.40,455.90 159.85,455.64 160.30,451.18 160.75,459.58 161.20,464.66 161.65,466.61 162.10,473.30 162.55,468.60 163.00,472.88 163.45,463.49 163.90,462.50 164.35,458.30 164.80,440.86 165.25,431.47 165.70,437.77 166.15,439.97 166.60,449.09 167.05,441.97 167.50,450.89 167.95,465.93 168.40,471.35 168.85,478.73 169.30,483.01 169.75,486.40 170.20,489.35 170.65,490.76 171.10,492.35 171.55,492.48" fill="none" stroke="#555555" stroke-width="0.8" stroke-linejoin="round"/>
<polyline points="124.00,494.00 124.50,494.00 125.00,494.00 125.50,494.00 126.00,494.00 126.50,494.00 127.00,494.00 127.50,494.00 128.00,494.00 128.50,494.00 129.00,494.00 129.50,494.00 130.00,494.00 130.50,494.00 131.00,494.00 131.50,494.00 132.00,494.00 132.50,494.00 133.00,494.00 133.50,494.00 134.00,494.00 134.50,494.00 135.00,494.00 135.50,494.00 136.00,494.00 136.50,494.00 137.00,494.00 137.50,494.00 138.00,494.00 138.50,494.00 139.00,494.00 139.50,494.00 140.00,494.00 140.50,493.99 141.00,493.99 141.50,493.97 142.00,493.92 142.50,493.84 143.00,493.70 143.50,493.45 144.00,493.08 144.50,492.56 145.00,491.89 145.50,491.12 146.00,490.32 146.50,489.60 147.00,489.05 147.50,488.72 148.00,488.56 148.50,488.41 149.00,488.02 149.50,487.07 150.00,485.26 150.50,482.43 151.00,478.66 151.50,474.30 152.00,469.95 152.50,466.37 153.00,464.24 153.50,463.98 154.00,465.61 154.50,468.66 155.00,472.35 155.50,475.71 156.00,477.84 156.50,478.06 157.00,476.08 157.50,472.03 158.00,466.51 158.50,460.51 159.00,455.21 159.50,451.74 160.00,450.84 160.50,452.70 161.00,456.81 161.50,462.14 162.00,467.39 162.50,471.25 163.00,472.74 163.50,471.33 164.00,467.09 164.50,460.68 165.00,453.29 165.50,446.43 166.00,441.59 166.50,439.90 167.00,441.80 167.50,446.97 168.00,454.45 168.50,462.97 169.00,471.28 169.50,478.47 170.00,484.10 170.50,488.11 171.00,490.73 171.50,492.31 172.00,493.18 172.50,493.63" fill="none" stroke="#e4403f" stroke-width="1.0" stroke-linejoin="round"/>
<text x="115.60" y="423.8" font-size="7.9" text-anchor="middle" textLength="3.7" lengthAdjust="spacingAndGlyphs" fill="#231f20" style="stroke-width:0.3px">7</text>
<text x="122.71" y="423.8" font-size="7.9" text-anchor="middle" textLength="3.7" lengthAdjust="spacingAndGlyphs" fill="#231f20" style="stroke-width:0.3px">6</text>
<text x="129.82" y="423.8" font-size="7.9" text-anchor="middle" textLength="3.7" lengthAdjust="spacingAndGlyphs" fill="#231f20" style="stroke-width:0.3px">5</text>
<text x="136.93" y="423.8" font-size="7.9" text-anchor="middle" textLength="3.7" lengthAdjust="spacingAndGlyphs" fill="#231f20" style="stroke-width:0.3px">4</text>
<text x="144.04" y="423.8" font-size="7.9" text-anchor="middle" textLength="3.7" lengthAdjust="spacingAndGlyphs" fill="#231f20" style="stroke-width:0.3px">3</text>
<text x="151.15" y="423.8" font-size="7.9" text-anchor="middle" textLength="3.7" lengthAdjust="spacingAndGlyphs" fill="#231f20" style="stroke-width:0.3px">2</text>
<text x="158.26" y="423.8" font-size="7.9" text-anchor="middle" textLength="3.7" lengthAdjust="spacingAndGlyphs" fill="#231f20" style="stroke-width:0.3px">1</text>
<text x="165.37" y="423.8" font-size="7.9" text-anchor="middle" textLength="3.7" lengthAdjust="spacingAndGlyphs" fill="#231f20" style="stroke-width:0.3px">0</text>
<text x="63.7" y="490.9" font-size="7.4" textLength="15.3" lengthAdjust="spacingAndGlyphs" fill="#231f20">CD8</text>
<text x="31.0" y="456.25" font-size="12" text-anchor="middle" textLength="27.5" lengthAdjust="spacingAndGlyphs" transform="rotate(-90 31.0 456.25)" fill="#231f20"># cells</text>
<text x="216.0" y="399.6" font-size="8.2" textLength="25.5" lengthAdjust="spacingAndGlyphs" fill="#231f20">ICA/B6</text>
<line x1="250.2" y1="396.9" x2="255.6" y2="396.9" stroke="#000" stroke-width="1.4"/>
<path d="M262.20,396.90 L253.60,393.60 L255.80,396.90 L253.60,400.20 Z" fill="#000"/>
<text x="265.6" y="399.6" font-size="8.2" textLength="27.2" lengthAdjust="spacingAndGlyphs" fill="#231f20">B10.BR</text>
<text x="216.0" y="410.6" font-size="8.2" textLength="111.7" lengthAdjust="spacingAndGlyphs" fill="#231f20">(donor marrow HSC-derived)</text>
<rect x="212.7" y="415.5" width="123.69999999999999" height="78.10000000000002" fill="#fff" stroke="#000" stroke-width="1.3"/>
<line x1="209.2" y1="493.6" x2="212.7" y2="493.6" stroke="#000" stroke-width="1.0"/>
<text x="205.7" y="496.5" font-size="8.2" text-anchor="end" fill="#231f20">0</text>
<line x1="209.2" y1="468.3" x2="212.7" y2="468.3" stroke="#000" stroke-width="1.0"/>
<text x="205.7" y="471.2" font-size="8.2" text-anchor="end" fill="#231f20">50</text>
<line x1="209.2" y1="443.0" x2="212.7" y2="443.0" stroke="#000" stroke-width="1.0"/>
<text x="205.7" y="445.9" font-size="8.2" text-anchor="end" fill="#231f20">100</text>
<line x1="209.2" y1="417.70000000000005" x2="212.7" y2="417.70000000000005" stroke="#000" stroke-width="1.0"/>
<text x="205.7" y="420.6" font-size="8.2" text-anchor="end" fill="#231f20">150</text>
<line x1="210.1" y1="493.6" x2="212.7" y2="493.6" stroke="#000" stroke-width="0.9"/>
<line x1="210.1" y1="488.54" x2="212.7" y2="488.54" stroke="#000" stroke-width="0.9"/>
<line x1="210.1" y1="483.48" x2="212.7" y2="483.48" stroke="#000" stroke-width="0.9"/>
<line x1="210.1" y1="478.42" x2="212.7" y2="478.42" stroke="#000" stroke-width="0.9"/>
<line x1="210.1" y1="473.36" x2="212.7" y2="473.36" stroke="#000" stroke-width="0.9"/>
<line x1="210.1" y1="468.3" x2="212.7" y2="468.3" stroke="#000" stroke-width="0.9"/>
<line x1="210.1" y1="463.24" x2="212.7" y2="463.24" stroke="#000" stroke-width="0.9"/>
<line x1="210.1" y1="458.18" x2="212.7" y2="458.18" stroke="#000" stroke-width="0.9"/>
<line x1="210.1" y1="453.12" x2="212.7" y2="453.12" stroke="#000" stroke-width="0.9"/>
<line x1="210.1" y1="448.06" x2="212.7" y2="448.06" stroke="#000" stroke-width="0.9"/>
<line x1="210.1" y1="443.0" x2="212.7" y2="443.0" stroke="#000" stroke-width="0.9"/>
<line x1="210.1" y1="437.94" x2="212.7" y2="437.94" stroke="#000" stroke-width="0.9"/>
<line x1="210.1" y1="432.88" x2="212.7" y2="432.88" stroke="#000" stroke-width="0.9"/>
<line x1="210.1" y1="427.82" x2="212.7" y2="427.82" stroke="#000" stroke-width="0.9"/>
<line x1="210.1" y1="422.76" x2="212.7" y2="422.76" stroke="#000" stroke-width="0.9"/>
<line x1="210.1" y1="417.7" x2="212.7" y2="417.7" stroke="#000" stroke-width="0.9"/>
<line x1="216.7" y1="493.6" x2="216.7" y2="496.6" stroke="#000" stroke-width="0.85"/>
<line x1="224.5267798872635" y1="493.6" x2="224.5267798872635" y2="495.8" stroke="#000" stroke-width="0.85"/>
<line x1="229.10515262271122" y1="493.6" x2="229.10515262271122" y2="495.8" stroke="#000" stroke-width="0.85"/>
<line x1="232.353559774527" y1="493.6" x2="232.353559774527" y2="495.8" stroke="#000" stroke-width="0.85"/>
<line x1="234.87322011273648" y1="493.6" x2="234.87322011273648" y2="495.8" stroke="#000" stroke-width="0.85"/>
<line x1="236.93193250997473" y1="493.6" x2="236.93193250997473" y2="495.8" stroke="#000" stroke-width="0.85"/>
<line x1="238.67254904037065" y1="493.6" x2="238.67254904037065" y2="495.8" stroke="#000" stroke-width="0.85"/>
<line x1="240.18033966179053" y1="493.6" x2="240.18033966179053" y2="495.8" stroke="#000" stroke-width="0.85"/>
<line x1="241.51030524542244" y1="493.6" x2="241.51030524542244" y2="495.8" stroke="#000" stroke-width="0.85"/>
<line x1="242.7" y1="493.6" x2="242.7" y2="496.6" stroke="#000" stroke-width="0.85"/>
<line x1="250.5267798872635" y1="493.6" x2="250.5267798872635" y2="495.8" stroke="#000" stroke-width="0.85"/>
<line x1="255.10515262271122" y1="493.6" x2="255.10515262271122" y2="495.8" stroke="#000" stroke-width="0.85"/>
<line x1="258.353559774527" y1="493.6" x2="258.353559774527" y2="495.8" stroke="#000" stroke-width="0.85"/>
<line x1="260.8732201127365" y1="493.6" x2="260.8732201127365" y2="495.8" stroke="#000" stroke-width="0.85"/>
<line x1="262.93193250997473" y1="493.6" x2="262.93193250997473" y2="495.8" stroke="#000" stroke-width="0.85"/>
<line x1="264.67254904037065" y1="493.6" x2="264.67254904037065" y2="495.8" stroke="#000" stroke-width="0.85"/>
<line x1="266.1803396617905" y1="493.6" x2="266.1803396617905" y2="495.8" stroke="#000" stroke-width="0.85"/>
<line x1="267.51030524542244" y1="493.6" x2="267.51030524542244" y2="495.8" stroke="#000" stroke-width="0.85"/>
<line x1="268.7" y1="493.6" x2="268.7" y2="496.6" stroke="#000" stroke-width="0.85"/>
<line x1="276.5267798872635" y1="493.6" x2="276.5267798872635" y2="495.8" stroke="#000" stroke-width="0.85"/>
<line x1="281.1051526227112" y1="493.6" x2="281.1051526227112" y2="495.8" stroke="#000" stroke-width="0.85"/>
<line x1="284.353559774527" y1="493.6" x2="284.353559774527" y2="495.8" stroke="#000" stroke-width="0.85"/>
<line x1="286.8732201127365" y1="493.6" x2="286.8732201127365" y2="495.8" stroke="#000" stroke-width="0.85"/>
<line x1="288.93193250997473" y1="493.6" x2="288.93193250997473" y2="495.8" stroke="#000" stroke-width="0.85"/>
<line x1="290.67254904037065" y1="493.6" x2="290.67254904037065" y2="495.8" stroke="#000" stroke-width="0.85"/>
<line x1="292.1803396617905" y1="493.6" x2="292.1803396617905" y2="495.8" stroke="#000" stroke-width="0.85"/>
<line x1="293.51030524542244" y1="493.6" x2="293.51030524542244" y2="495.8" stroke="#000" stroke-width="0.85"/>
<line x1="294.7" y1="493.6" x2="294.7" y2="496.6" stroke="#000" stroke-width="0.85"/>
<line x1="302.5267798872635" y1="493.6" x2="302.5267798872635" y2="495.8" stroke="#000" stroke-width="0.85"/>
<line x1="307.1051526227112" y1="493.6" x2="307.1051526227112" y2="495.8" stroke="#000" stroke-width="0.85"/>
<line x1="310.353559774527" y1="493.6" x2="310.353559774527" y2="495.8" stroke="#000" stroke-width="0.85"/>
<line x1="312.8732201127365" y1="493.6" x2="312.8732201127365" y2="495.8" stroke="#000" stroke-width="0.85"/>
<line x1="314.93193250997473" y1="493.6" x2="314.93193250997473" y2="495.8" stroke="#000" stroke-width="0.85"/>
<line x1="316.67254904037065" y1="493.6" x2="316.67254904037065" y2="495.8" stroke="#000" stroke-width="0.85"/>
<line x1="318.1803396617905" y1="493.6" x2="318.1803396617905" y2="495.8" stroke="#000" stroke-width="0.85"/>
<line x1="319.51030524542244" y1="493.6" x2="319.51030524542244" y2="495.8" stroke="#000" stroke-width="0.85"/>
<line x1="320.7" y1="493.6" x2="320.7" y2="496.6" stroke="#000" stroke-width="0.85"/>
<line x1="328.5267798872635" y1="493.6" x2="328.5267798872635" y2="495.8" stroke="#000" stroke-width="0.85"/>
<line x1="333.1051526227112" y1="493.6" x2="333.1051526227112" y2="495.8" stroke="#000" stroke-width="0.85"/>
<polyline points="307.70,493.11 308.20,492.64 308.70,491.84 309.20,490.52 309.70,488.51 310.20,485.63 310.70,481.77 311.20,476.97 311.70,471.45 312.20,465.65 312.70,460.19 313.20,455.76 313.70,453.01 314.20,452.34 314.70,453.88 315.20,457.37 315.70,462.29 316.20,467.97 316.70,473.72 317.20,478.99 317.70,483.43 318.20,486.90 318.70,489.41 319.20,491.12 319.70,492.21 320.20,492.86 320.70,493.23" fill="none" stroke="#3434f0" stroke-width="0.8" stroke-linejoin="round"/>
<polyline points="300.20,493.01 300.70,492.46 301.20,491.49 301.70,489.92 302.20,487.51 302.70,484.07 303.20,479.45 303.70,473.71 304.20,467.11 304.70,460.17 305.20,453.64 305.70,448.34 306.20,445.05 306.70,444.25 307.20,446.09 307.70,450.26 308.20,456.15 308.70,462.94 309.20,469.82 309.70,476.13 310.20,481.44 310.70,485.58 311.20,488.59 311.70,490.64 312.20,491.94 312.70,492.72 313.20,493.16" fill="none" stroke="#3434f0" stroke-width="0.8" stroke-linejoin="round"/>
<polyline points="292.70,493.31 293.20,493.03 293.70,492.53 294.20,491.69 294.70,490.37 295.20,488.42 295.70,485.75 296.20,482.32 296.70,478.25 297.20,473.80 297.70,469.42 298.20,465.61 298.70,462.92 299.20,461.73 299.70,462.25 300.20,464.38 300.70,467.79 301.20,472.01 301.70,476.49 302.20,480.76 302.70,484.46 303.20,487.44 303.70,489.67 304.20,491.22 304.70,492.24 305.20,492.86 305.70,493.22" fill="none" stroke="#3434f0" stroke-width="0.8" stroke-linejoin="round"/>
<polyline points="285.20,493.46 285.70,493.33 286.20,493.09 286.70,492.69 287.20,492.07 287.70,491.15 288.20,489.88 288.70,488.26 289.20,486.33 289.70,484.23 290.20,482.15 290.70,480.35 291.20,479.08 291.70,478.52 292.20,478.76 292.70,479.77 293.20,481.38 293.70,483.38 294.20,485.50 294.70,487.52 295.20,489.28 295.70,490.69 296.20,491.74 296.70,492.48 297.20,492.96 297.70,493.25 298.20,493.42" fill="none" stroke="#3434f0" stroke-width="0.8" stroke-linejoin="round"/>
<polyline points="278.20,493.56 278.70,493.51 279.20,493.43 279.70,493.30 280.20,493.09 280.70,492.79 281.20,492.37 281.70,491.83 282.20,491.19 282.70,490.50 283.20,489.81 283.70,489.21 284.20,488.79 284.70,488.61 285.20,488.69 285.70,489.02 286.20,489.56 286.70,490.22 287.20,490.92 287.70,491.59 288.20,492.17 288.70,492.64 289.20,492.98 289.70,493.23 290.20,493.39 290.70,493.48 291.20,493.54" fill="none" stroke="#3434f0" stroke-width="0.8" stroke-linejoin="round"/>
<polyline points="254.40,493.34 254.85,493.07 255.30,493.35 255.75,491.75 256.20,492.16 256.65,492.76 257.10,492.21 257.55,491.12 258.00,492.01 258.45,491.89 258.90,491.92 259.35,492.44 259.80,491.65 260.25,492.71 260.70,492.39 261.15,492.16 261.60,492.34 262.05,492.74 262.50,492.89 262.95,491.69 263.40,492.71 263.85,492.65 264.30,492.97 264.75,490.78 265.20,492.50 265.65,492.13 266.10,491.42 266.55,491.96 267.00,491.74 267.45,491.34 267.90,491.87 268.35,492.23 268.80,491.67 269.25,491.92 269.70,492.13 270.15,491.76 270.60,492.98 271.05,492.26 271.50,493.00 271.95,492.68 272.40,493.09 272.85,493.12 273.30,491.41 273.75,492.70 274.20,490.95 274.65,492.58 275.10,491.63 275.55,492.10 276.00,491.34 276.45,491.04 276.90,491.70 277.35,490.38 277.80,490.24 278.25,490.50 278.70,491.90 279.15,489.73 279.60,491.46 280.05,490.25 280.50,489.75 280.95,491.74 281.40,490.58 281.85,490.01 282.30,489.13 282.75,487.27 283.20,488.97 283.65,486.47 284.10,486.57 284.55,485.99 285.00,487.71 285.45,488.77 285.90,487.86 286.35,489.02 286.80,488.25 287.25,487.79 287.70,486.16 288.15,484.52 288.60,486.79 289.05,484.24 289.50,482.57 289.95,477.41 290.40,480.64 290.85,471.92 291.30,476.60 291.75,477.75 292.20,479.90 292.65,480.14 293.10,482.02 293.55,482.03 294.00,482.63 294.45,482.48 294.90,484.17 295.35,481.87 295.80,478.28 296.25,475.63 296.70,473.42 297.15,466.55 297.60,461.56 298.05,466.46 298.50,454.24 298.95,465.59 299.40,461.87 299.85,458.84 300.30,466.16 300.75,469.70 301.20,474.19 301.65,471.04 302.10,475.27 302.55,473.05 303.00,473.88 303.45,466.69 303.90,459.18 304.35,455.53 304.80,448.13 305.25,434.53 305.70,446.46 306.15,437.31 306.60,437.65 307.05,443.24 307.50,451.81 307.95,461.87 308.40,467.68 308.85,471.27 309.30,471.06 309.75,472.49 310.20,469.76 310.65,466.19 311.10,462.40 311.55,467.82 312.00,460.63 312.45,446.50 312.90,443.81 313.35,445.25 313.80,448.78 314.25,448.69 314.70,458.68 315.15,460.51 315.60,463.62 316.05,468.61 316.50,480.26 316.95,484.03 317.40,484.17 317.85,488.10 318.30,489.86 318.75,491.28 319.20,491.69" fill="none" stroke="#555555" stroke-width="0.8" stroke-linejoin="round"/>
<polyline points="255.20,493.52 255.70,493.46 256.20,493.39 256.70,493.29 257.20,493.17 257.70,493.04 258.20,492.90 258.70,492.77 259.20,492.67 259.70,492.61 260.20,492.60 260.70,492.65 261.20,492.74 261.70,492.85 262.20,492.98 262.70,493.09 263.20,493.17 263.70,493.21 264.20,493.20 264.70,493.14 265.20,493.03 265.70,492.89 266.20,492.74 266.70,492.59 267.20,492.48 267.70,492.41 268.20,492.40 268.70,492.46 269.20,492.57 269.70,492.72 270.20,492.89 270.70,493.05 271.20,493.19 271.70,493.30 272.20,493.37 272.70,493.39 273.20,493.37 273.70,493.29 274.20,493.16 274.70,492.97 275.20,492.74 275.70,492.47 276.20,492.19 276.70,491.93 277.20,491.72 277.70,491.60 278.20,491.56 278.70,491.61 279.20,491.72 279.70,491.84 280.20,491.91 280.70,491.88 281.20,491.71 281.70,491.38 282.20,490.90 282.70,490.31 283.20,489.70 283.70,489.14 284.20,488.73 284.70,488.53 285.20,488.54 285.70,488.75 286.20,489.05 286.70,489.31 287.20,489.39 287.70,489.14 288.20,488.45 288.70,487.30 289.20,485.72 289.70,483.85 290.20,481.93 290.70,480.23 291.20,478.99 291.70,478.43 292.20,478.61 292.70,479.47 293.20,480.81 293.70,482.31 294.20,483.59 294.70,484.29 295.20,484.10 295.70,482.83 296.20,480.46 296.70,477.12 297.20,473.15 297.70,469.06 298.20,465.41 298.70,462.77 299.20,461.56 299.70,461.94 300.20,463.78 300.70,466.65 301.20,469.90 301.70,472.81 302.20,474.67 302.70,474.93 303.20,473.30 303.70,469.78 304.20,464.73 304.70,458.81 305.20,452.89 305.70,447.94 306.20,444.81 306.70,444.06 307.20,445.81 307.70,449.75 308.20,455.19 308.70,461.18 309.20,466.75 309.70,471.04 310.20,473.47 310.70,473.75 311.20,471.96 311.70,468.49 312.20,463.99 312.70,459.31 313.20,455.32 313.70,452.80 314.20,452.25 314.70,453.84 315.20,457.35 315.70,462.28 316.20,467.97 316.70,473.72 317.20,478.99 317.70,483.43 318.20,486.90 318.70,489.41 319.20,491.12 319.70,492.21" fill="none" stroke="#e4403f" stroke-width="1.0" stroke-linejoin="round"/>
<text x="256.10" y="424.4" font-size="7.9" text-anchor="middle" textLength="3.7" lengthAdjust="spacingAndGlyphs" fill="#231f20" style="stroke-width:0.3px">7</text>
<text x="264.35" y="424.4" font-size="7.9" text-anchor="middle" textLength="3.7" lengthAdjust="spacingAndGlyphs" fill="#231f20" style="stroke-width:0.3px">6</text>
<text x="272.60" y="424.4" font-size="7.9" text-anchor="middle" textLength="3.7" lengthAdjust="spacingAndGlyphs" fill="#231f20" style="stroke-width:0.3px">5</text>
<text x="280.85" y="424.4" font-size="7.9" text-anchor="middle" textLength="3.7" lengthAdjust="spacingAndGlyphs" fill="#231f20" style="stroke-width:0.3px">4</text>
<text x="289.10" y="424.4" font-size="7.9" text-anchor="middle" textLength="3.7" lengthAdjust="spacingAndGlyphs" fill="#231f20" style="stroke-width:0.3px">3</text>
<text x="297.35" y="424.4" font-size="7.9" text-anchor="middle" textLength="3.7" lengthAdjust="spacingAndGlyphs" fill="#231f20" style="stroke-width:0.3px">2</text>
<text x="305.60" y="424.4" font-size="7.9" text-anchor="middle" textLength="3.7" lengthAdjust="spacingAndGlyphs" fill="#231f20" style="stroke-width:0.3px">1</text>
<text x="313.85" y="424.4" font-size="7.9" text-anchor="middle" textLength="3.7" lengthAdjust="spacingAndGlyphs" fill="#231f20" style="stroke-width:0.3px">0</text>
<text x="217.6" y="491.0" font-size="7.4" textLength="15.3" lengthAdjust="spacingAndGlyphs" fill="#231f20">CD8</text>
<text x="62.1" y="522.2" font-size="8.2" textLength="9.5" lengthAdjust="spacingAndGlyphs" fill="#231f20">B6</text>
<line x1="76.4" y1="519.2" x2="82.0" y2="519.2" stroke="#000" stroke-width="1.4"/>
<path d="M88.60,519.20 L80.00,515.90 L82.20,519.20 L80.00,522.50 Z" fill="#000"/>
<text x="92.4" y="522.2" font-size="8.2" textLength="26.5" lengthAdjust="spacingAndGlyphs" fill="#231f20">B10.BR</text>
<rect x="59.2" y="524.9" width="124.49999999999999" height="75.70000000000005" fill="#fff" stroke="#000" stroke-width="1.3"/>
<line x1="55.7" y1="600.3" x2="59.2" y2="600.3" stroke="#000" stroke-width="1.0"/>
<text x="52.6" y="603.1999999999999" font-size="8.2" text-anchor="end" fill="#231f20">0</text>
<line x1="55.7" y1="587.38" x2="59.2" y2="587.38" stroke="#000" stroke-width="1.0"/>
<text x="52.6" y="590.28" font-size="8.2" text-anchor="end" fill="#231f20">5</text>
<line x1="55.7" y1="574.4599999999999" x2="59.2" y2="574.4599999999999" stroke="#000" stroke-width="1.0"/>
<text x="52.6" y="577.3599999999999" font-size="8.2" text-anchor="end" fill="#231f20">10</text>
<line x1="55.7" y1="561.54" x2="59.2" y2="561.54" stroke="#000" stroke-width="1.0"/>
<text x="52.6" y="564.4399999999999" font-size="8.2" text-anchor="end" fill="#231f20">15</text>
<line x1="55.7" y1="548.62" x2="59.2" y2="548.62" stroke="#000" stroke-width="1.0"/>
<text x="52.6" y="551.52" font-size="8.2" text-anchor="end" fill="#231f20">20</text>
<line x1="55.7" y1="535.6999999999999" x2="59.2" y2="535.6999999999999" stroke="#000" stroke-width="1.0"/>
<text x="52.6" y="538.5999999999999" font-size="8.2" text-anchor="end" fill="#231f20">25</text>
<line x1="56.6" y1="600.3" x2="59.2" y2="600.3" stroke="#000" stroke-width="0.9"/>
<line x1="56.6" y1="597.716" x2="59.2" y2="597.716" stroke="#000" stroke-width="0.9"/>
<line x1="56.6" y1="595.1320000000001" x2="59.2" y2="595.1320000000001" stroke="#000" stroke-width="0.9"/>
<line x1="56.6" y1="592.5480000000001" x2="59.2" y2="592.5480000000001" stroke="#000" stroke-width="0.9"/>
<line x1="56.6" y1="589.9640000000002" x2="59.2" y2="589.9640000000002" stroke="#000" stroke-width="0.9"/>
<line x1="56.6" y1="587.3800000000002" x2="59.2" y2="587.3800000000002" stroke="#000" stroke-width="0.9"/>
<line x1="56.6" y1="584.7960000000003" x2="59.2" y2="584.7960000000003" stroke="#000" stroke-width="0.9"/>
<line x1="56.6" y1="582.2120000000003" x2="59.2" y2="582.2120000000003" stroke="#000" stroke-width="0.9"/>
<line x1="56.6" y1="579.6280000000004" x2="59.2" y2="579.6280000000004" stroke="#000" stroke-width="0.9"/>
<line x1="56.6" y1="577.0440000000004" x2="59.2" y2="577.0440000000004" stroke="#000" stroke-width="0.9"/>
<line x1="56.6" y1="574.4600000000005" x2="59.2" y2="574.4600000000005" stroke="#000" stroke-width="0.9"/>
<line x1="56.6" y1="571.8760000000005" x2="59.2" y2="571.8760000000005" stroke="#000" stroke-width="0.9"/>
<line x1="56.6" y1="569.2920000000006" x2="59.2" y2="569.2920000000006" stroke="#000" stroke-width="0.9"/>
<line x1="56.6" y1="566.7080000000007" x2="59.2" y2="566.7080000000007" stroke="#000" stroke-width="0.9"/>
<line x1="56.6" y1="564.1240000000007" x2="59.2" y2="564.1240000000007" stroke="#000" stroke-width="0.9"/>
<line x1="56.6" y1="561.5400000000008" x2="59.2" y2="561.5400000000008" stroke="#000" stroke-width="0.9"/>
<line x1="56.6" y1="558.9560000000008" x2="59.2" y2="558.9560000000008" stroke="#000" stroke-width="0.9"/>
<line x1="56.6" y1="556.3720000000009" x2="59.2" y2="556.3720000000009" stroke="#000" stroke-width="0.9"/>
<line x1="56.6" y1="553.7880000000009" x2="59.2" y2="553.7880000000009" stroke="#000" stroke-width="0.9"/>
<line x1="56.6" y1="551.204000000001" x2="59.2" y2="551.204000000001" stroke="#000" stroke-width="0.9"/>
<line x1="56.6" y1="548.620000000001" x2="59.2" y2="548.620000000001" stroke="#000" stroke-width="0.9"/>
<line x1="56.6" y1="546.0360000000011" x2="59.2" y2="546.0360000000011" stroke="#000" stroke-width="0.9"/>
<line x1="56.6" y1="543.4520000000011" x2="59.2" y2="543.4520000000011" stroke="#000" stroke-width="0.9"/>
<line x1="56.6" y1="540.8680000000012" x2="59.2" y2="540.8680000000012" stroke="#000" stroke-width="0.9"/>
<line x1="56.6" y1="538.2840000000012" x2="59.2" y2="538.2840000000012" stroke="#000" stroke-width="0.9"/>
<line x1="56.6" y1="535.7000000000013" x2="59.2" y2="535.7000000000013" stroke="#000" stroke-width="0.9"/>
<line x1="56.6" y1="533.1160000000013" x2="59.2" y2="533.1160000000013" stroke="#000" stroke-width="0.9"/>
<line x1="56.6" y1="530.5320000000014" x2="59.2" y2="530.5320000000014" stroke="#000" stroke-width="0.9"/>
<line x1="56.6" y1="527.9480000000015" x2="59.2" y2="527.9480000000015" stroke="#000" stroke-width="0.9"/>
<line x1="56.6" y1="525.3640000000015" x2="59.2" y2="525.3640000000015" stroke="#000" stroke-width="0.9"/>
<line x1="63.2" y1="600.6" x2="63.2" y2="603.6" stroke="#000" stroke-width="0.85"/>
<line x1="71.02677988726352" y1="600.6" x2="71.02677988726352" y2="602.8000000000001" stroke="#000" stroke-width="0.85"/>
<line x1="75.60515262271123" y1="600.6" x2="75.60515262271123" y2="602.8000000000001" stroke="#000" stroke-width="0.85"/>
<line x1="78.85355977452703" y1="600.6" x2="78.85355977452703" y2="602.8000000000001" stroke="#000" stroke-width="0.85"/>
<line x1="81.37322011273649" y1="600.6" x2="81.37322011273649" y2="602.8000000000001" stroke="#000" stroke-width="0.85"/>
<line x1="83.43193250997473" y1="600.6" x2="83.43193250997473" y2="602.8000000000001" stroke="#000" stroke-width="0.85"/>
<line x1="85.17254904037068" y1="600.6" x2="85.17254904037068" y2="602.8000000000001" stroke="#000" stroke-width="0.85"/>
<line x1="86.68033966179053" y1="600.6" x2="86.68033966179053" y2="602.8000000000001" stroke="#000" stroke-width="0.85"/>
<line x1="88.01030524542244" y1="600.6" x2="88.01030524542244" y2="602.8000000000001" stroke="#000" stroke-width="0.85"/>
<line x1="89.2" y1="600.6" x2="89.2" y2="603.6" stroke="#000" stroke-width="0.85"/>
<line x1="97.02677988726352" y1="600.6" x2="97.02677988726352" y2="602.8000000000001" stroke="#000" stroke-width="0.85"/>
<line x1="101.60515262271123" y1="600.6" x2="101.60515262271123" y2="602.8000000000001" stroke="#000" stroke-width="0.85"/>
<line x1="104.85355977452703" y1="600.6" x2="104.85355977452703" y2="602.8000000000001" stroke="#000" stroke-width="0.85"/>
<line x1="107.37322011273649" y1="600.6" x2="107.37322011273649" y2="602.8000000000001" stroke="#000" stroke-width="0.85"/>
<line x1="109.43193250997473" y1="600.6" x2="109.43193250997473" y2="602.8000000000001" stroke="#000" stroke-width="0.85"/>
<line x1="111.17254904037068" y1="600.6" x2="111.17254904037068" y2="602.8000000000001" stroke="#000" stroke-width="0.85"/>
<line x1="112.68033966179053" y1="600.6" x2="112.68033966179053" y2="602.8000000000001" stroke="#000" stroke-width="0.85"/>
<line x1="114.01030524542244" y1="600.6" x2="114.01030524542244" y2="602.8000000000001" stroke="#000" stroke-width="0.85"/>
<line x1="115.2" y1="600.6" x2="115.2" y2="603.6" stroke="#000" stroke-width="0.85"/>
<line x1="123.02677988726352" y1="600.6" x2="123.02677988726352" y2="602.8000000000001" stroke="#000" stroke-width="0.85"/>
<line x1="127.60515262271123" y1="600.6" x2="127.60515262271123" y2="602.8000000000001" stroke="#000" stroke-width="0.85"/>
<line x1="130.853559774527" y1="600.6" x2="130.853559774527" y2="602.8000000000001" stroke="#000" stroke-width="0.85"/>
<line x1="133.3732201127365" y1="600.6" x2="133.3732201127365" y2="602.8000000000001" stroke="#000" stroke-width="0.85"/>
<line x1="135.43193250997473" y1="600.6" x2="135.43193250997473" y2="602.8000000000001" stroke="#000" stroke-width="0.85"/>
<line x1="137.17254904037068" y1="600.6" x2="137.17254904037068" y2="602.8000000000001" stroke="#000" stroke-width="0.85"/>
<line x1="138.68033966179053" y1="600.6" x2="138.68033966179053" y2="602.8000000000001" stroke="#000" stroke-width="0.85"/>
<line x1="140.01030524542244" y1="600.6" x2="140.01030524542244" y2="602.8000000000001" stroke="#000" stroke-width="0.85"/>
<line x1="141.2" y1="600.6" x2="141.2" y2="603.6" stroke="#000" stroke-width="0.85"/>
<line x1="149.0267798872635" y1="600.6" x2="149.0267798872635" y2="602.8000000000001" stroke="#000" stroke-width="0.85"/>
<line x1="153.60515262271122" y1="600.6" x2="153.60515262271122" y2="602.8000000000001" stroke="#000" stroke-width="0.85"/>
<line x1="156.853559774527" y1="600.6" x2="156.853559774527" y2="602.8000000000001" stroke="#000" stroke-width="0.85"/>
<line x1="159.37322011273648" y1="600.6" x2="159.37322011273648" y2="602.8000000000001" stroke="#000" stroke-width="0.85"/>
<line x1="161.43193250997473" y1="600.6" x2="161.43193250997473" y2="602.8000000000001" stroke="#000" stroke-width="0.85"/>
<line x1="163.17254904037065" y1="600.6" x2="163.17254904037065" y2="602.8000000000001" stroke="#000" stroke-width="0.85"/>
<line x1="164.68033966179053" y1="600.6" x2="164.68033966179053" y2="602.8000000000001" stroke="#000" stroke-width="0.85"/>
<line x1="166.01030524542244" y1="600.6" x2="166.01030524542244" y2="602.8000000000001" stroke="#000" stroke-width="0.85"/>
<line x1="167.2" y1="600.6" x2="167.2" y2="603.6" stroke="#000" stroke-width="0.85"/>
<line x1="175.0267798872635" y1="600.6" x2="175.0267798872635" y2="602.8000000000001" stroke="#000" stroke-width="0.85"/>
<line x1="179.60515262271122" y1="600.6" x2="179.60515262271122" y2="602.8000000000001" stroke="#000" stroke-width="0.85"/>
<polyline points="160.20,600.16 160.70,599.70 161.20,598.85 161.70,597.41 162.20,595.16 162.70,591.93 163.20,587.65 163.70,582.49 164.20,576.89 164.70,571.53 165.20,567.23 165.70,564.73 166.20,564.49 166.70,566.57 167.20,570.56 167.70,575.78 168.20,581.39 168.70,586.68 169.20,591.16 169.70,594.60 170.20,597.03 170.70,598.61 171.20,599.56 171.70,600.09 172.20,600.37" fill="none" stroke="#3434f0" stroke-width="0.8" stroke-linejoin="round"/>
<polyline points="151.70,600.51 152.20,600.41 152.70,600.22 153.20,599.88 153.70,599.34 154.20,598.54 154.70,597.45 155.20,596.07 155.70,594.51 156.20,592.94 156.70,591.57 157.20,590.63 157.70,590.30 158.20,590.63 158.70,591.57 159.20,592.94 159.70,594.51 160.20,596.07 160.70,597.45 161.20,598.54 161.70,599.34 162.20,599.88 162.70,600.22 163.20,600.41 163.70,600.51" fill="none" stroke="#3434f0" stroke-width="0.8" stroke-linejoin="round"/>
<polyline points="143.70,600.53 144.20,600.46 144.70,600.32 145.20,600.09 145.70,599.72 146.20,599.18 146.70,598.45 147.20,597.55 147.70,596.56 148.20,595.58 148.70,594.76 149.20,594.24 149.70,594.11 150.20,594.40 150.70,595.06 151.20,595.96 151.70,596.96 152.20,597.93 152.70,598.76 153.20,599.42 153.70,599.89 154.20,600.20 154.70,600.39 155.20,600.49 155.70,600.55" fill="none" stroke="#3434f0" stroke-width="0.8" stroke-linejoin="round"/>
<polyline points="135.70,600.55 136.20,600.48 136.70,600.36 137.20,600.14 137.70,599.77 138.20,599.21 138.70,598.41 139.20,597.38 139.70,596.15 140.20,594.86 140.70,593.65 141.20,592.72 141.70,592.24 142.20,592.30 142.70,592.88 143.20,593.87 143.70,595.11 144.20,596.41 144.70,597.60 145.20,598.59 145.70,599.34 146.20,599.86 146.70,600.19 147.20,600.39 147.70,600.50" fill="none" stroke="#3434f0" stroke-width="0.8" stroke-linejoin="round"/>
<polyline points="128.20,600.49 128.70,600.37 129.20,600.14 129.70,599.75 130.20,599.11 130.70,598.16 131.20,596.86 131.70,595.24 132.20,593.39 132.70,591.52 133.20,589.90 133.70,588.79 134.20,588.40 134.70,588.79 135.20,589.90 135.70,591.52 136.20,593.39 136.70,595.24 137.20,596.86 137.70,598.16 138.20,599.11 138.70,599.75 139.20,600.14 139.70,600.37 140.20,600.49" fill="none" stroke="#3434f0" stroke-width="0.8" stroke-linejoin="round"/>
<polyline points="120.20,600.45 120.70,600.30 121.20,600.01 121.70,599.53 122.20,598.77 122.70,597.69 123.20,596.25 123.70,594.51 124.20,592.63 124.70,590.83 125.20,589.38 125.70,588.54 126.20,588.46 126.70,589.16 127.20,590.50 127.70,592.26 128.20,594.14 128.70,595.92 129.20,597.43 129.70,598.58 130.20,599.40 130.70,599.93 131.20,600.25 131.70,600.43 132.20,600.52" fill="none" stroke="#3434f0" stroke-width="0.8" stroke-linejoin="round"/>
<polyline points="111.70,600.50 112.20,600.39 112.70,600.17 113.20,599.77 113.70,599.12 114.20,598.10 114.70,596.67 115.20,594.81 115.70,592.61 116.20,590.27 116.70,588.10 117.20,586.44 117.70,585.58 118.20,585.68 118.70,586.72 119.20,588.51 119.70,590.74 120.20,593.07 120.70,595.21 121.20,596.99 121.70,598.34 122.20,599.27 122.70,599.87 123.20,600.22 123.70,600.42" fill="none" stroke="#3434f0" stroke-width="0.8" stroke-linejoin="round"/>
<polyline points="104.20,600.56 104.70,600.53 105.20,600.45 105.70,600.34 106.20,600.15 106.70,599.88 107.20,599.53 107.70,599.10 108.20,598.64 108.70,598.20 109.20,597.84 109.70,597.64 110.20,597.62 110.70,597.79 111.20,598.12 111.70,598.55 112.20,599.01 112.70,599.45 113.20,599.82 113.70,600.10 114.20,600.31 114.70,600.44 115.20,600.51 115.70,600.56 116.20,600.58" fill="none" stroke="#3434f0" stroke-width="0.8" stroke-linejoin="round"/>
<polyline points="99.40,598.47 99.85,598.11 100.30,599.67 100.75,599.80 101.20,599.86 101.65,600.41 102.10,599.17 102.55,598.96 103.00,600.48 103.45,598.30 103.90,598.18 104.35,598.42 104.80,599.57 105.25,597.57 105.70,600.06 106.15,599.45 106.60,598.60 107.05,598.58 107.50,596.11 107.95,597.28 108.40,597.97 108.85,594.86 109.30,594.90 109.75,594.23 110.20,596.20 110.65,597.74 111.10,596.84 111.55,597.72 112.00,597.60 112.45,597.62 112.90,597.99 113.35,595.34 113.80,596.71 114.25,592.76 114.70,594.28 115.15,593.36 115.60,585.07 116.05,583.25 116.50,583.43 116.95,572.39 117.40,588.22 117.85,582.99 118.30,590.31 118.75,590.30 119.20,591.22 119.65,589.86 120.10,593.49 120.55,594.03 121.00,597.56 121.45,596.28 121.90,596.92 122.35,594.85 122.80,593.67 123.25,592.21 123.70,589.36 124.15,591.65 124.60,586.56 125.05,588.06 125.50,584.11 125.95,587.54 126.40,586.44 126.85,586.88 127.30,590.97 127.75,593.00 128.20,596.22 128.65,595.89 129.10,596.29 129.55,596.93 130.00,595.33 130.45,596.86 130.90,594.67 131.35,595.91 131.80,592.40 132.25,591.87 132.70,587.70 133.15,581.25 133.60,581.67 134.05,586.27 134.50,590.35 134.95,584.37 135.40,589.68 135.85,590.33 136.30,594.12 136.75,597.01 137.20,596.83 137.65,596.87 138.10,598.11 138.55,595.83 139.00,593.58 139.45,593.88 139.90,595.62 140.35,594.69 140.80,593.05 141.25,590.09 141.70,582.19 142.15,584.09 142.60,591.17 143.05,594.53 143.50,595.65 143.95,596.44 144.40,595.37 144.85,597.46 145.30,598.24 145.75,595.99 146.20,595.91 146.65,595.94 147.10,595.25 147.55,593.42 148.00,594.96 148.45,592.95 148.90,593.12 149.35,591.42 149.80,592.52 150.25,593.19 150.70,596.87 151.15,597.32 151.60,597.98 152.05,597.66 152.50,596.73 152.95,597.43 153.40,597.67 153.85,596.88 154.30,591.05 154.75,594.67 155.20,591.19 155.65,592.80 156.10,590.82 156.55,585.67 157.00,582.21 157.45,585.78 157.90,588.96 158.35,594.53 158.80,591.63 159.25,593.05 159.70,594.52 160.15,596.10 160.60,595.57 161.05,591.53 161.50,587.12 161.95,587.71 162.40,585.26 162.85,584.04 163.30,582.93 163.75,566.68 164.20,572.38 164.65,572.67 165.10,575.31 165.55,556.73 166.00,554.98 166.45,567.92 166.90,565.08 167.35,573.41 167.80,585.26 168.25,588.11 168.70,589.00 169.15,595.28 169.60,592.97 170.05,598.54 170.50,598.85 170.95,599.40 171.40,599.25" fill="none" stroke="#555555" stroke-width="0.8" stroke-linejoin="round"/>
<polyline points="100.20,600.60 100.70,600.60 101.20,600.60 101.70,600.60 102.20,600.60 102.70,600.60 103.20,600.59 103.70,600.58 104.20,600.56 104.70,600.53 105.20,600.45 105.70,600.34 106.20,600.15 106.70,599.88 107.20,599.53 107.70,599.10 108.20,598.64 108.70,598.20 109.20,597.84 109.70,597.63 110.20,597.61 110.70,597.77 111.20,598.08 111.70,598.45 112.20,598.80 112.70,599.02 113.20,598.99 113.70,598.62 114.20,597.81 114.70,596.51 115.20,594.72 115.70,592.57 116.20,590.25 116.70,588.10 117.20,586.44 117.70,585.58 118.20,585.67 118.70,586.71 119.20,588.48 119.70,590.67 120.20,592.92 120.70,594.91 121.20,596.40 121.70,597.27 122.20,597.45 122.70,596.96 123.20,595.87 123.70,594.33 124.20,592.55 124.70,590.80 125.20,589.37 125.70,588.54 126.20,588.46 126.70,589.15 127.20,590.48 127.70,592.21 128.20,594.04 128.70,595.69 129.20,596.97 129.70,597.73 130.20,597.91 130.70,597.50 131.20,596.52 131.70,595.07 132.20,593.31 132.70,591.49 133.20,589.89 133.70,588.79 134.20,588.39 134.70,588.78 135.20,589.88 135.70,591.47 136.20,593.27 136.70,595.00 137.20,596.40 137.70,597.34 138.20,597.72 138.70,597.56 139.20,596.92 139.70,595.93 140.20,594.75 140.70,593.60 141.20,592.70 141.70,592.23 142.20,592.29 142.70,592.86 143.20,593.84 143.70,595.05 144.20,596.27 144.70,597.33 145.20,598.08 145.70,598.46 146.20,598.44 146.70,598.04 147.20,597.34 147.70,596.46 148.20,595.53 148.70,594.74 149.20,594.23 149.70,594.10 150.20,594.39 150.70,595.04 151.20,595.92 151.70,596.87 152.20,597.73 152.70,598.38 153.20,598.70 153.70,598.63 154.20,598.14 154.70,597.23 155.20,595.97 155.70,594.46 156.20,592.92 156.70,591.56 157.20,590.63 157.70,590.29 158.20,590.62 158.70,591.54 159.20,592.85 159.70,594.32 160.20,595.64 160.70,596.54 161.20,596.79 161.70,596.15 162.20,594.45 162.70,591.55 163.20,587.46 163.70,582.40 164.20,576.85 164.70,571.52 165.20,567.22 165.70,564.72 166.20,564.49 166.70,566.56 167.20,570.56 167.70,575.78 168.20,581.39 168.70,586.68 169.20,591.16 169.70,594.60 170.20,597.03 170.70,598.61 171.20,599.56 171.70,600.09" fill="none" stroke="#e4403f" stroke-width="1.0" stroke-linejoin="round"/>
<text x="107.50" y="533.9" font-size="7.9" text-anchor="middle" textLength="3.7" lengthAdjust="spacingAndGlyphs" fill="#231f20" style="stroke-width:0.3px">7</text>
<text x="115.96" y="533.9" font-size="7.9" text-anchor="middle" textLength="3.7" lengthAdjust="spacingAndGlyphs" fill="#231f20" style="stroke-width:0.3px">6</text>
<text x="124.42" y="533.9" font-size="7.9" text-anchor="middle" textLength="3.7" lengthAdjust="spacingAndGlyphs" fill="#231f20" style="stroke-width:0.3px">5</text>
<text x="132.88" y="533.9" font-size="7.9" text-anchor="middle" textLength="3.7" lengthAdjust="spacingAndGlyphs" fill="#231f20" style="stroke-width:0.3px">4</text>
<text x="141.34" y="533.9" font-size="7.9" text-anchor="middle" textLength="3.7" lengthAdjust="spacingAndGlyphs" fill="#231f20" style="stroke-width:0.3px">3</text>
<text x="149.80" y="533.9" font-size="7.9" text-anchor="middle" textLength="3.7" lengthAdjust="spacingAndGlyphs" fill="#231f20" style="stroke-width:0.3px">2</text>
<text x="158.26" y="533.9" font-size="7.9" text-anchor="middle" textLength="3.7" lengthAdjust="spacingAndGlyphs" fill="#231f20" style="stroke-width:0.3px">1</text>
<text x="166.72" y="533.9" font-size="7.9" text-anchor="middle" textLength="3.7" lengthAdjust="spacingAndGlyphs" fill="#231f20" style="stroke-width:0.3px">0</text>
<text x="63.9" y="597.8" font-size="7.4" textLength="15.3" lengthAdjust="spacingAndGlyphs" fill="#231f20">CD8</text>
<text x="36.2" y="564.5" font-size="12" text-anchor="middle" textLength="28.1" lengthAdjust="spacingAndGlyphs" transform="rotate(-90 36.2 564.5)" fill="#231f20"># cells</text>
<text x="215.3" y="508.6" font-size="8.2" textLength="25.5" lengthAdjust="spacingAndGlyphs" fill="#231f20">ICA/B6</text>
<line x1="249.5" y1="505.8" x2="254.9" y2="505.8" stroke="#000" stroke-width="1.4"/>
<path d="M261.50,505.80 L252.90,502.50 L255.10,505.80 L252.90,509.10 Z" fill="#000"/>
<text x="265.0" y="508.6" font-size="8.2" textLength="27.2" lengthAdjust="spacingAndGlyphs" fill="#231f20">B10.BR</text>
<text x="215.3" y="521.3" font-size="8.2" textLength="112.4" lengthAdjust="spacingAndGlyphs" fill="#231f20">(donor splenic T cell-derived)</text>
<rect x="212.6" y="525.3" width="123.70000000000002" height="75.70000000000005" fill="#fff" stroke="#000" stroke-width="1.3"/>
<line x1="209.1" y1="601.0" x2="212.6" y2="601.0" stroke="#000" stroke-width="1.0"/>
<text x="205.7" y="603.9" font-size="8.2" text-anchor="end" fill="#231f20">0</text>
<line x1="209.1" y1="588.06" x2="212.6" y2="588.06" stroke="#000" stroke-width="1.0"/>
<text x="205.7" y="590.9599999999999" font-size="8.2" text-anchor="end" fill="#231f20">10</text>
<line x1="209.1" y1="575.12" x2="212.6" y2="575.12" stroke="#000" stroke-width="1.0"/>
<text x="205.7" y="578.02" font-size="8.2" text-anchor="end" fill="#231f20">20</text>
<line x1="209.1" y1="562.18" x2="212.6" y2="562.18" stroke="#000" stroke-width="1.0"/>
<text x="205.7" y="565.0799999999999" font-size="8.2" text-anchor="end" fill="#231f20">30</text>
<line x1="209.1" y1="549.24" x2="212.6" y2="549.24" stroke="#000" stroke-width="1.0"/>
<text x="205.7" y="552.14" font-size="8.2" text-anchor="end" fill="#231f20">40</text>
<line x1="209.1" y1="536.3" x2="212.6" y2="536.3" stroke="#000" stroke-width="1.0"/>
<text x="205.7" y="539.1999999999999" font-size="8.2" text-anchor="end" fill="#231f20">50</text>
<line x1="210.0" y1="601.0" x2="212.6" y2="601.0" stroke="#000" stroke-width="0.9"/>
<line x1="210.0" y1="598.412" x2="212.6" y2="598.412" stroke="#000" stroke-width="0.9"/>
<line x1="210.0" y1="595.8240000000001" x2="212.6" y2="595.8240000000001" stroke="#000" stroke-width="0.9"/>
<line x1="210.0" y1="593.2360000000001" x2="212.6" y2="593.2360000000001" stroke="#000" stroke-width="0.9"/>
<line x1="210.0" y1="590.6480000000001" x2="212.6" y2="590.6480000000001" stroke="#000" stroke-width="0.9"/>
<line x1="210.0" y1="588.0600000000002" x2="212.6" y2="588.0600000000002" stroke="#000" stroke-width="0.9"/>
<line x1="210.0" y1="585.4720000000002" x2="212.6" y2="585.4720000000002" stroke="#000" stroke-width="0.9"/>
<line x1="210.0" y1="582.8840000000002" x2="212.6" y2="582.8840000000002" stroke="#000" stroke-width="0.9"/>
<line x1="210.0" y1="580.2960000000003" x2="212.6" y2="580.2960000000003" stroke="#000" stroke-width="0.9"/>
<line x1="210.0" y1="577.7080000000003" x2="212.6" y2="577.7080000000003" stroke="#000" stroke-width="0.9"/>
<line x1="210.0" y1="575.1200000000003" x2="212.6" y2="575.1200000000003" stroke="#000" stroke-width="0.9"/>
<line x1="210.0" y1="572.5320000000004" x2="212.6" y2="572.5320000000004" stroke="#000" stroke-width="0.9"/>
<line x1="210.0" y1="569.9440000000004" x2="212.6" y2="569.9440000000004" stroke="#000" stroke-width="0.9"/>
<line x1="210.0" y1="567.3560000000004" x2="212.6" y2="567.3560000000004" stroke="#000" stroke-width="0.9"/>
<line x1="210.0" y1="564.7680000000005" x2="212.6" y2="564.7680000000005" stroke="#000" stroke-width="0.9"/>
<line x1="210.0" y1="562.1800000000005" x2="212.6" y2="562.1800000000005" stroke="#000" stroke-width="0.9"/>
<line x1="210.0" y1="559.5920000000006" x2="212.6" y2="559.5920000000006" stroke="#000" stroke-width="0.9"/>
<line x1="210.0" y1="557.0040000000006" x2="212.6" y2="557.0040000000006" stroke="#000" stroke-width="0.9"/>
<line x1="210.0" y1="554.4160000000006" x2="212.6" y2="554.4160000000006" stroke="#000" stroke-width="0.9"/>
<line x1="210.0" y1="551.8280000000007" x2="212.6" y2="551.8280000000007" stroke="#000" stroke-width="0.9"/>
<line x1="210.0" y1="549.2400000000007" x2="212.6" y2="549.2400000000007" stroke="#000" stroke-width="0.9"/>
<line x1="210.0" y1="546.6520000000007" x2="212.6" y2="546.6520000000007" stroke="#000" stroke-width="0.9"/>
<line x1="210.0" y1="544.0640000000008" x2="212.6" y2="544.0640000000008" stroke="#000" stroke-width="0.9"/>
<line x1="210.0" y1="541.4760000000008" x2="212.6" y2="541.4760000000008" stroke="#000" stroke-width="0.9"/>
<line x1="210.0" y1="538.8880000000008" x2="212.6" y2="538.8880000000008" stroke="#000" stroke-width="0.9"/>
<line x1="210.0" y1="536.3000000000009" x2="212.6" y2="536.3000000000009" stroke="#000" stroke-width="0.9"/>
<line x1="210.0" y1="533.7120000000009" x2="212.6" y2="533.7120000000009" stroke="#000" stroke-width="0.9"/>
<line x1="210.0" y1="531.1240000000009" x2="212.6" y2="531.1240000000009" stroke="#000" stroke-width="0.9"/>
<line x1="210.0" y1="528.536000000001" x2="212.6" y2="528.536000000001" stroke="#000" stroke-width="0.9"/>
<line x1="210.0" y1="525.948000000001" x2="212.6" y2="525.948000000001" stroke="#000" stroke-width="0.9"/>
<line x1="216.6" y1="601.0" x2="216.6" y2="604.0" stroke="#000" stroke-width="0.85"/>
<line x1="224.4267798872635" y1="601.0" x2="224.4267798872635" y2="603.2" stroke="#000" stroke-width="0.85"/>
<line x1="229.00515262271122" y1="601.0" x2="229.00515262271122" y2="603.2" stroke="#000" stroke-width="0.85"/>
<line x1="232.25355977452702" y1="601.0" x2="232.25355977452702" y2="603.2" stroke="#000" stroke-width="0.85"/>
<line x1="234.77322011273648" y1="601.0" x2="234.77322011273648" y2="603.2" stroke="#000" stroke-width="0.85"/>
<line x1="236.83193250997473" y1="601.0" x2="236.83193250997473" y2="603.2" stroke="#000" stroke-width="0.85"/>
<line x1="238.57254904037066" y1="601.0" x2="238.57254904037066" y2="603.2" stroke="#000" stroke-width="0.85"/>
<line x1="240.08033966179053" y1="601.0" x2="240.08033966179053" y2="603.2" stroke="#000" stroke-width="0.85"/>
<line x1="241.41030524542245" y1="601.0" x2="241.41030524542245" y2="603.2" stroke="#000" stroke-width="0.85"/>
<line x1="242.6" y1="601.0" x2="242.6" y2="604.0" stroke="#000" stroke-width="0.85"/>
<line x1="250.4267798872635" y1="601.0" x2="250.4267798872635" y2="603.2" stroke="#000" stroke-width="0.85"/>
<line x1="255.00515262271122" y1="601.0" x2="255.00515262271122" y2="603.2" stroke="#000" stroke-width="0.85"/>
<line x1="258.253559774527" y1="601.0" x2="258.253559774527" y2="603.2" stroke="#000" stroke-width="0.85"/>
<line x1="260.7732201127365" y1="601.0" x2="260.7732201127365" y2="603.2" stroke="#000" stroke-width="0.85"/>
<line x1="262.8319325099747" y1="601.0" x2="262.8319325099747" y2="603.2" stroke="#000" stroke-width="0.85"/>
<line x1="264.5725490403707" y1="601.0" x2="264.5725490403707" y2="603.2" stroke="#000" stroke-width="0.85"/>
<line x1="266.0803396617905" y1="601.0" x2="266.0803396617905" y2="603.2" stroke="#000" stroke-width="0.85"/>
<line x1="267.4103052454224" y1="601.0" x2="267.4103052454224" y2="603.2" stroke="#000" stroke-width="0.85"/>
<line x1="268.6" y1="601.0" x2="268.6" y2="604.0" stroke="#000" stroke-width="0.85"/>
<line x1="276.42677988726354" y1="601.0" x2="276.42677988726354" y2="603.2" stroke="#000" stroke-width="0.85"/>
<line x1="281.00515262271125" y1="601.0" x2="281.00515262271125" y2="603.2" stroke="#000" stroke-width="0.85"/>
<line x1="284.25355977452705" y1="601.0" x2="284.25355977452705" y2="603.2" stroke="#000" stroke-width="0.85"/>
<line x1="286.7732201127365" y1="601.0" x2="286.7732201127365" y2="603.2" stroke="#000" stroke-width="0.85"/>
<line x1="288.83193250997476" y1="601.0" x2="288.83193250997476" y2="603.2" stroke="#000" stroke-width="0.85"/>
<line x1="290.5725490403707" y1="601.0" x2="290.5725490403707" y2="603.2" stroke="#000" stroke-width="0.85"/>
<line x1="292.08033966179056" y1="601.0" x2="292.08033966179056" y2="603.2" stroke="#000" stroke-width="0.85"/>
<line x1="293.4103052454225" y1="601.0" x2="293.4103052454225" y2="603.2" stroke="#000" stroke-width="0.85"/>
<line x1="294.6" y1="601.0" x2="294.6" y2="604.0" stroke="#000" stroke-width="0.85"/>
<line x1="302.42677988726354" y1="601.0" x2="302.42677988726354" y2="603.2" stroke="#000" stroke-width="0.85"/>
<line x1="307.00515262271125" y1="601.0" x2="307.00515262271125" y2="603.2" stroke="#000" stroke-width="0.85"/>
<line x1="310.25355977452705" y1="601.0" x2="310.25355977452705" y2="603.2" stroke="#000" stroke-width="0.85"/>
<line x1="312.7732201127365" y1="601.0" x2="312.7732201127365" y2="603.2" stroke="#000" stroke-width="0.85"/>
<line x1="314.83193250997476" y1="601.0" x2="314.83193250997476" y2="603.2" stroke="#000" stroke-width="0.85"/>
<line x1="316.5725490403707" y1="601.0" x2="316.5725490403707" y2="603.2" stroke="#000" stroke-width="0.85"/>
<line x1="318.08033966179056" y1="601.0" x2="318.08033966179056" y2="603.2" stroke="#000" stroke-width="0.85"/>
<line x1="319.4103052454225" y1="601.0" x2="319.4103052454225" y2="603.2" stroke="#000" stroke-width="0.85"/>
<line x1="320.6" y1="601.0" x2="320.6" y2="604.0" stroke="#000" stroke-width="0.85"/>
<line x1="328.42677988726354" y1="601.0" x2="328.42677988726354" y2="603.2" stroke="#000" stroke-width="0.85"/>
<line x1="333.00515262271125" y1="601.0" x2="333.00515262271125" y2="603.2" stroke="#000" stroke-width="0.85"/>
<polyline points="306.10,600.79 306.60,600.55 307.10,600.09 307.60,599.27 308.10,597.91 308.60,595.82 309.10,592.82 309.60,588.87 310.10,584.11 310.60,578.90 311.10,573.84 311.60,569.64 312.10,566.99 312.60,566.34 313.10,567.83 313.60,571.17 314.10,575.80 314.60,581.00 315.10,586.09 315.60,590.56 316.10,594.13 316.60,596.76 317.10,598.54 317.60,599.66 318.10,600.31 318.60,600.67" fill="none" stroke="#3434f0" stroke-width="0.8" stroke-linejoin="round"/>
<polyline points="299.60,600.88 300.10,600.75 300.60,600.51 301.10,600.10 301.60,599.43 302.10,598.45 302.60,597.09 303.10,595.39 303.60,593.42 304.10,591.39 304.60,589.56 305.10,588.19 305.60,587.54 306.10,587.71 306.60,588.67 307.10,590.25 307.60,592.20 308.10,594.23 308.60,596.11 309.10,597.68 309.60,598.88 310.10,599.73 310.60,600.29 311.10,600.62 311.60,600.81 312.10,600.91" fill="none" stroke="#3434f0" stroke-width="0.8" stroke-linejoin="round"/>
<polyline points="292.60,600.91 293.10,600.82 293.60,600.65 294.10,600.35 294.60,599.87 295.10,599.16 295.60,598.18 296.10,596.95 296.60,595.53 297.10,594.06 297.60,592.74 298.10,591.75 298.60,591.28 299.10,591.40 299.60,592.09 300.10,593.24 300.60,594.64 301.10,596.11 301.60,597.47 302.10,598.60 302.60,599.47 303.10,600.08 303.60,600.48 304.10,600.73 304.60,600.86 305.10,600.94" fill="none" stroke="#3434f0" stroke-width="0.8" stroke-linejoin="round"/>
<polyline points="284.60,600.98 285.10,600.96 285.60,600.92 286.10,600.85 286.60,600.73 287.10,600.55 287.60,600.29 288.10,599.95 288.60,599.54 289.10,599.09 289.60,598.65 290.10,598.29 290.60,598.06 291.10,598.00 291.60,598.13 292.10,598.42 292.60,598.82 293.10,599.27 293.60,599.71 294.10,600.10 294.60,600.41 295.10,600.63 295.60,600.79 296.10,600.88 296.60,600.94 297.10,600.97" fill="none" stroke="#3434f0" stroke-width="0.8" stroke-linejoin="round"/>
<polyline points="231.40,599.84 231.85,598.67 232.30,600.09 232.75,599.25 233.20,599.28 233.65,599.74 234.10,600.42 234.55,600.34 235.00,598.84 235.45,600.48 235.90,599.81 236.35,597.03 236.80,599.21 237.25,600.55 237.70,600.83 238.15,600.92 238.60,599.48 239.05,600.46 239.50,600.10 239.95,600.51 240.40,599.98 240.85,599.76 241.30,598.90 241.75,601.00 242.20,600.53 242.65,600.72 243.10,600.41 243.55,600.91 244.00,600.78 244.45,600.71 244.90,600.88 245.35,600.70 245.80,600.86 246.25,598.88 246.70,600.73 247.15,599.50 247.60,600.78 248.05,600.57 248.50,599.73 248.95,600.65 249.40,600.27 249.85,600.02 250.30,599.81 250.75,600.77 251.20,600.83 251.65,598.24 252.10,600.29 252.55,600.85 253.00,600.18 253.45,600.29 253.90,598.12 254.35,595.57 254.80,597.79 255.25,600.29 255.70,600.25 256.15,600.85 256.60,600.05 257.05,600.45 257.50,599.74 257.95,599.74 258.40,597.71 258.85,600.24 259.30,599.58 259.75,598.08 260.20,598.91 260.65,599.44 261.10,598.44 261.55,598.37 262.00,599.41 262.45,599.00 262.90,599.21 263.35,599.37 263.80,598.97 264.25,598.31 264.70,599.28 265.15,600.09 265.60,599.17 266.05,599.26 266.50,599.34 266.95,599.20 267.40,598.03 267.85,598.36 268.30,597.22 268.75,598.78 269.20,597.93 269.65,597.88 270.10,599.09 270.55,599.06 271.00,599.85 271.45,597.00 271.90,598.27 272.35,600.30 272.80,600.44 273.25,600.40 273.70,599.37 274.15,600.12 274.60,598.62 275.05,600.82 275.50,600.35 275.95,597.94 276.40,600.58 276.85,599.95 277.30,600.09 277.75,599.65 278.20,599.62 278.65,599.58 279.10,599.41 279.55,598.09 280.00,598.46 280.45,597.95 280.90,597.63 281.35,597.56 281.80,596.52 282.25,598.71 282.70,597.49 283.15,596.55 283.60,597.80 284.05,598.08 284.50,599.50 284.95,599.22 285.40,599.54 285.85,600.33 286.30,599.43 286.75,599.40 287.20,598.49 287.65,597.75 288.10,596.98 288.55,599.12 289.00,598.97 289.45,598.81 289.90,596.56 290.35,595.60 290.80,597.14 291.25,597.71 291.70,597.74 292.15,597.87 292.60,599.35 293.05,598.65 293.50,597.99 293.95,597.91 294.40,598.46 294.85,597.68 295.30,596.52 295.75,593.61 296.20,591.57 296.65,592.22 297.10,592.85 297.55,590.08 298.00,588.81 298.45,587.35 298.90,589.67 299.35,590.21 299.80,593.73 300.25,594.73 300.70,592.30 301.15,595.59 301.60,593.60 302.05,593.47 302.50,591.57 302.95,590.83 303.40,593.11 303.85,586.17 304.30,586.03 304.75,584.68 305.20,583.28 305.65,580.46 306.10,588.38 306.55,589.78 307.00,588.14 307.45,590.51 307.90,593.29 308.35,585.58 308.80,589.13 309.25,581.35 309.70,583.22 310.15,578.90 310.60,560.72 311.05,550.94 311.50,574.20 311.95,567.05 312.40,567.84 312.85,566.81 313.30,571.79 313.75,576.70 314.20,582.26 314.65,583.35 315.10,591.38 315.55,592.17 316.00,593.34 316.45,596.10 316.90,599.38 317.35,599.02 317.80,600.62 318.25,600.54" fill="none" stroke="#555555" stroke-width="0.8" stroke-linejoin="round"/>
<polyline points="232.10,601.00 232.60,601.00 233.10,601.00 233.60,601.00 234.10,601.00 234.60,601.00 235.10,601.00 235.60,601.00 236.10,601.00 236.60,601.00 237.10,601.00 237.60,601.00 238.10,601.00 238.60,601.00 239.10,601.00 239.60,601.00 240.10,601.00 240.60,601.00 241.10,601.00 241.60,601.00 242.10,601.00 242.60,601.00 243.10,601.00 243.60,601.00 244.10,601.00 244.60,601.00 245.10,601.00 245.60,601.00 246.10,601.00 246.60,601.00 247.10,601.00 247.60,601.00 248.10,601.00 248.60,601.00 249.10,601.00 249.60,601.00 250.10,601.00 250.60,601.00 251.10,601.00 251.60,601.00 252.10,601.00 252.60,601.00 253.10,601.00 253.60,601.00 254.10,601.00 254.60,601.00 255.10,601.00 255.60,600.99 256.10,600.98 256.60,600.96 257.10,600.93 257.60,600.87 258.10,600.78 258.60,600.65 259.10,600.48 259.60,600.27 260.10,600.04 260.60,599.83 261.10,599.64 261.60,599.53 262.10,599.50 262.60,599.56 263.10,599.71 263.60,599.90 264.10,600.11 264.60,600.30 265.10,600.45 265.60,600.53 266.10,600.52 266.60,600.42 267.10,600.24 267.60,600.00 268.10,599.71 268.60,599.43 269.10,599.19 269.60,599.04 270.10,599.00 270.60,599.09 271.10,599.28 271.60,599.55 272.10,599.85 272.60,600.14 273.10,600.40 273.60,600.60 274.10,600.75 274.60,600.86 275.10,600.92 275.60,600.95 276.10,600.95 276.60,600.93 277.10,600.87 277.60,600.78 278.10,600.63 278.60,600.41 279.10,600.13 279.60,599.78 280.10,599.41 280.60,599.04 281.10,598.74 281.60,598.55 282.10,598.50 282.60,598.61 283.10,598.85 283.60,599.18 284.10,599.55 284.60,599.91 285.10,600.21 285.60,600.43 286.10,600.55 286.60,600.56 287.10,600.46 287.60,600.24 288.10,599.93 288.60,599.53 289.10,599.08 289.60,598.65 290.10,598.29 290.60,598.06 291.10,598.00 291.60,598.12 292.10,598.38 292.60,598.74 293.10,599.09 293.60,599.36 294.10,599.44 294.60,599.27 295.10,598.79 295.60,597.97 296.10,596.83 296.60,595.47 297.10,594.03 297.60,592.72 298.10,591.74 298.60,591.25 299.10,591.34 299.60,591.97 300.10,592.99 300.60,594.15 301.10,595.21 301.60,595.90 302.10,596.05 302.60,595.57 303.10,594.47 303.60,592.91 304.10,591.12 304.60,589.41 305.10,588.09 305.60,587.42 306.10,587.49 306.60,588.21 307.10,589.34 307.60,590.47 308.10,591.15 308.60,590.93 309.10,589.50 309.60,586.76 310.10,582.84 310.60,578.19 311.10,573.46 311.60,569.45 312.10,566.90 312.60,566.31 313.10,567.81 313.60,571.16 314.10,575.80 314.60,581.00 315.10,586.09 315.60,590.56 316.10,594.13 316.60,596.76 317.10,598.54 317.60,599.66 318.10,600.31 318.60,600.67" fill="none" stroke="#e4403f" stroke-width="1.0" stroke-linejoin="round"/>
<text x="259.70" y="535.1" font-size="7.9" text-anchor="middle" textLength="3.7" lengthAdjust="spacingAndGlyphs" fill="#231f20" style="stroke-width:0.3px">7</text>
<text x="267.12" y="535.1" font-size="7.9" text-anchor="middle" textLength="3.7" lengthAdjust="spacingAndGlyphs" fill="#231f20" style="stroke-width:0.3px">6</text>
<text x="274.54" y="535.1" font-size="7.9" text-anchor="middle" textLength="3.7" lengthAdjust="spacingAndGlyphs" fill="#231f20" style="stroke-width:0.3px">5</text>
<text x="281.96" y="535.1" font-size="7.9" text-anchor="middle" textLength="3.7" lengthAdjust="spacingAndGlyphs" fill="#231f20" style="stroke-width:0.3px">4</text>
<text x="289.38" y="535.1" font-size="7.9" text-anchor="middle" textLength="3.7" lengthAdjust="spacingAndGlyphs" fill="#231f20" style="stroke-width:0.3px">3</text>
<text x="296.80" y="535.1" font-size="7.9" text-anchor="middle" textLength="3.7" lengthAdjust="spacingAndGlyphs" fill="#231f20" style="stroke-width:0.3px">2</text>
<text x="304.22" y="535.1" font-size="7.9" text-anchor="middle" textLength="3.7" lengthAdjust="spacingAndGlyphs" fill="#231f20" style="stroke-width:0.3px">1</text>
<text x="311.64" y="535.1" font-size="7.9" text-anchor="middle" textLength="3.7" lengthAdjust="spacingAndGlyphs" fill="#231f20" style="stroke-width:0.3px">0</text>
<text x="216.3" y="597.2" font-size="7.4" textLength="15.3" lengthAdjust="spacingAndGlyphs" fill="#231f20">CD8</text>
<line x1="101.9" y1="612.8" x2="280" y2="612.8" stroke="#000" stroke-width="1.3"/>
<path d="M288.8,612.8 L278.5,609.6 L279.8,612.8 L278.5,616 Z" fill="#000"/>
<text x="191.9" y="624.8" font-size="10.8" text-anchor="middle" textLength="23" lengthAdjust="spacingAndGlyphs" fill="#231f20">CFSE</text>
<line x1="394.6" y1="407.1" x2="394.6" y2="520.5" stroke="#000" stroke-width="1.3"/>
<line x1="394.6" y1="520.5" x2="504.6" y2="520.5" stroke="#000" stroke-width="1.3"/>
<line x1="391.1" y1="520.5" x2="394.6" y2="520.5" stroke="#000" stroke-width="1.1"/>
<text x="387.3" y="523.5" font-size="8.6" text-anchor="end" fill="#231f20">0</text>
<line x1="391.1" y1="493.04" x2="394.6" y2="493.04" stroke="#000" stroke-width="1.1"/>
<text x="387.3" y="496.04" font-size="8.6" text-anchor="end" fill="#231f20">2</text>
<line x1="391.1" y1="465.58" x2="394.6" y2="465.58" stroke="#000" stroke-width="1.1"/>
<text x="387.3" y="468.58" font-size="8.6" text-anchor="end" fill="#231f20">4</text>
<line x1="391.1" y1="438.12" x2="394.6" y2="438.12" stroke="#000" stroke-width="1.1"/>
<text x="387.3" y="441.12" font-size="8.6" text-anchor="end" fill="#231f20">6</text>
<line x1="391.1" y1="410.65999999999997" x2="394.6" y2="410.65999999999997" stroke="#000" stroke-width="1.1"/>
<text x="387.3" y="413.65999999999997" font-size="8.6" text-anchor="end" fill="#231f20">8</text>
<line x1="421.5" y1="520.5" x2="421.5" y2="524.2" stroke="#000" stroke-width="1.1"/>
<line x1="477.3" y1="520.5" x2="477.3" y2="524.2" stroke="#000" stroke-width="1.1"/>
<text x="421.2" y="535.6" font-size="8.8" text-anchor="middle" textLength="17" lengthAdjust="spacingAndGlyphs" fill="#231f20">CD4</text>
<text x="477.5" y="535.6" font-size="8.8" text-anchor="middle" textLength="17" lengthAdjust="spacingAndGlyphs" fill="#231f20">CD8</text>
<text x="376.1" y="463.8" font-size="11" text-anchor="middle" textLength="80" lengthAdjust="spacingAndGlyphs" transform="rotate(-90 376.1 463.8)" fill="#231f20">Replication index</text>
<line x1="403.15" y1="488.6" x2="403.15" y2="487.9" stroke="#000" stroke-width="1.1"/>
<line x1="400.95" y1="487.9" x2="405.34999999999997" y2="487.9" stroke="#000" stroke-width="1.1"/>
<rect x="398.8" y="488.6" width="8.699999999999989" height="31.899999999999977" fill="#2a4f39"/>
<line x1="415.15" y1="447.5" x2="415.15" y2="442.5" stroke="#000" stroke-width="1.1"/>
<line x1="412.95" y1="442.5" x2="417.34999999999997" y2="442.5" stroke="#000" stroke-width="1.1"/>
<rect x="410.8" y="447.5" width="8.699999999999989" height="73.0" fill="#7a67ad"/>
<line x1="426.9" y1="478.1" x2="426.9" y2="472.7" stroke="#000" stroke-width="1.1"/>
<line x1="424.7" y1="472.7" x2="429.09999999999997" y2="472.7" stroke="#000" stroke-width="1.1"/>
<rect x="422.3" y="478.1" width="9.199999999999989" height="42.39999999999998" fill="#3a3f55"/>
<line x1="439.5" y1="469.4" x2="439.5" y2="467.5" stroke="#000" stroke-width="1.1"/>
<line x1="437.3" y1="467.5" x2="441.7" y2="467.5" stroke="#000" stroke-width="1.1"/>
<rect x="435.0" y="469.4" width="9.0" height="51.10000000000002" fill="#6094d2"/>
<line x1="459.4" y1="482.5" x2="459.4" y2="480.4" stroke="#000" stroke-width="1.1"/>
<line x1="457.2" y1="480.4" x2="461.59999999999997" y2="480.4" stroke="#000" stroke-width="1.1"/>
<rect x="455.0" y="482.5" width="8.800000000000011" height="38.0" fill="#2a4f39"/>
<line x1="471.65" y1="423.3" x2="471.65" y2="412.3" stroke="#000" stroke-width="1.1"/>
<line x1="469.45" y1="412.3" x2="473.84999999999997" y2="412.3" stroke="#000" stroke-width="1.1"/>
<rect x="467.1" y="423.3" width="9.099999999999966" height="97.19999999999999" fill="#7a67ad"/>
<line x1="483.45" y1="477.1" x2="483.45" y2="474.2" stroke="#000" stroke-width="1.1"/>
<line x1="481.25" y1="474.2" x2="485.65" y2="474.2" stroke="#000" stroke-width="1.1"/>
<rect x="479.0" y="477.1" width="8.899999999999977" height="43.39999999999998" fill="#3a3f55"/>
<line x1="495.95" y1="470.4" x2="495.95" y2="466.5" stroke="#000" stroke-width="1.1"/>
<line x1="493.75" y1="466.5" x2="498.15" y2="466.5" stroke="#000" stroke-width="1.1"/>
<rect x="491.5" y="470.4" width="8.899999999999977" height="50.10000000000002" fill="#6094d2"/>
<line x1="402.5" y1="427.2" x2="440" y2="427.2" stroke="#000" stroke-width="1.15"/>
<circle cx="418.85" cy="423.40" r="1.2" fill="#2a2a2a"/>
<circle cx="422.75" cy="423.40" r="1.2" fill="#2a2a2a"/>
<line x1="415" y1="438.2" x2="440.5" y2="438.2" stroke="#000" stroke-width="1.15"/>
<circle cx="426.15" cy="434.40" r="1.2" fill="#2a2a2a"/>
<circle cx="430.05" cy="434.40" r="1.2" fill="#2a2a2a"/>
<line x1="426.2" y1="460.2" x2="439.8" y2="460.2" stroke="#000" stroke-width="1.15"/>
<circle cx="433.00" cy="456.40" r="1.2" fill="#2a2a2a"/>
<line x1="459.4" y1="398.6" x2="496.9" y2="398.6" stroke="#000" stroke-width="1.15"/>
<circle cx="478.15" cy="394.80" r="1.2" fill="#2a2a2a"/>
<line x1="471" y1="408.3" x2="496.9" y2="408.3" stroke="#000" stroke-width="1.15"/>
<circle cx="482.00" cy="404.50" r="1.2" fill="#2a2a2a"/>
<circle cx="485.90" cy="404.50" r="1.2" fill="#2a2a2a"/>
<line x1="483.5" y1="460.2" x2="496.9" y2="460.2" stroke="#000" stroke-width="1.15"/>
<circle cx="490.20" cy="456.40" r="1.2" fill="#2a2a2a"/>
<rect x="378.1" y="541.0" width="9.8" height="7.4" fill="#2a4f39"/>
<rect x="378.1" y="553.3" width="9.8" height="7.4" fill="#7a67ad"/>
<rect x="378.1" y="567.2" width="9.8" height="7.4" fill="#3a3f55"/>
<rect x="378.1" y="592.9" width="9.8" height="7.4" fill="#6094d2"/>
<text x="391.9" y="548.2" font-size="8.2" textLength="9.3" lengthAdjust="spacingAndGlyphs" fill="#231f20">B6</text>
<line x1="405.3" y1="545.4" x2="410.7" y2="545.4" stroke="#000" stroke-width="1.4"/>
<path d="M417.30,545.40 L408.70,542.10 L410.90,545.40 L408.70,548.70 Z" fill="#000"/>
<text x="422.0" y="548.2" font-size="8.2" textLength="9.2" lengthAdjust="spacingAndGlyphs" fill="#231f20">B6</text>
<text x="391.9" y="560.9" font-size="8.2" textLength="9.3" lengthAdjust="spacingAndGlyphs" fill="#231f20">B6</text>
<line x1="405.3" y1="558.1" x2="410.7" y2="558.1" stroke="#000" stroke-width="1.4"/>
<path d="M417.30,558.10 L408.70,554.80 L410.90,558.10 L408.70,561.40 Z" fill="#000"/>
<text x="422.0" y="560.9" font-size="8.2" textLength="24.9" lengthAdjust="spacingAndGlyphs" fill="#231f20">B10.BR</text>
<text x="391.9" y="574.3" font-size="8.2" textLength="24.3" lengthAdjust="spacingAndGlyphs" fill="#231f20">ICA/B6</text>
<line x1="423.1" y1="571.5" x2="428.7" y2="571.5" stroke="#000" stroke-width="1.4"/>
<path d="M435.30,571.50 L426.70,568.20 L428.90,571.50 L426.70,574.80 Z" fill="#000"/>
<text x="439.3" y="574.3" font-size="8.2" textLength="24.9" lengthAdjust="spacingAndGlyphs" fill="#231f20">B10.BR</text>
<text x="391.9" y="586.3" font-size="8.2" textLength="104" lengthAdjust="spacingAndGlyphs" fill="#231f20">(donor marrow HSC-derived)</text>
<text x="391.9" y="599.7" font-size="8.2" textLength="24.3" lengthAdjust="spacingAndGlyphs" fill="#231f20">ICA/B6</text>
<line x1="423.1" y1="596.9" x2="428.7" y2="596.9" stroke="#000" stroke-width="1.4"/>
<path d="M435.30,596.90 L426.70,593.60 L428.90,596.90 L426.70,600.20 Z" fill="#000"/>
<text x="439.3" y="599.7" font-size="8.2" textLength="24.9" lengthAdjust="spacingAndGlyphs" fill="#231f20">B10.BR</text>
<text x="391.9" y="611.7" font-size="8.2" textLength="104.6" lengthAdjust="spacingAndGlyphs" fill="#231f20">(donor splenic T cell-derived)</text>
<line x1="70.5" y1="649.8" x2="70.5" y2="757.4" stroke="#000" stroke-width="1.3"/>
<line x1="70.5" y1="757.4" x2="225.5" y2="757.4" stroke="#000" stroke-width="1.3"/>
<line x1="67.2" y1="757.4" x2="70.5" y2="757.4" stroke="#000" stroke-width="1.1"/>
<text x="63.9" y="760.3" font-size="8.2" text-anchor="end" fill="#231f20">0</text>
<line x1="67.2" y1="736.64" x2="70.5" y2="736.64" stroke="#000" stroke-width="1.1"/>
<text x="63.9" y="739.54" font-size="8.2" text-anchor="end" fill="#231f20">20</text>
<line x1="67.2" y1="715.88" x2="70.5" y2="715.88" stroke="#000" stroke-width="1.1"/>
<text x="63.9" y="718.78" font-size="8.2" text-anchor="end" fill="#231f20">40</text>
<line x1="67.2" y1="695.12" x2="70.5" y2="695.12" stroke="#000" stroke-width="1.1"/>
<text x="63.9" y="698.02" font-size="8.2" text-anchor="end" fill="#231f20">60</text>
<line x1="67.2" y1="674.36" x2="70.5" y2="674.36" stroke="#000" stroke-width="1.1"/>
<text x="63.9" y="677.26" font-size="8.2" text-anchor="end" fill="#231f20">80</text>
<line x1="67.2" y1="653.6" x2="70.5" y2="653.6" stroke="#000" stroke-width="1.1"/>
<text x="63.9" y="656.5" font-size="8.2" text-anchor="end" fill="#231f20">100</text>
<line x1="90.1" y1="757.4" x2="90.1" y2="760.8" stroke="#000" stroke-width="1.1"/>
<line x1="128.6" y1="757.4" x2="128.6" y2="760.8" stroke="#000" stroke-width="1.1"/>
<line x1="167.7" y1="757.4" x2="167.7" y2="760.8" stroke="#000" stroke-width="1.1"/>
<line x1="206.2" y1="757.4" x2="206.2" y2="760.8" stroke="#000" stroke-width="1.1"/>
<line x1="77.3" y1="712.9" x2="77.3" y2="706.7" stroke="#000" stroke-width="1.1"/>
<line x1="75.3" y1="706.7" x2="79.3" y2="706.7" stroke="#000" stroke-width="1.1"/>
<rect x="74.0" y="712.9" width="6.6" height="44.5" fill="#b3036d"/>
<line x1="85.89999999999999" y1="734.4" x2="85.89999999999999" y2="720.4" stroke="#000" stroke-width="1.1"/>
<line x1="83.89999999999999" y1="720.4" x2="87.89999999999999" y2="720.4" stroke="#000" stroke-width="1.1"/>
<rect x="82.6" y="734.4" width="6.6" height="23.0" fill="#91531f"/>
<line x1="94.5" y1="705.4" x2="94.5" y2="692.2" stroke="#000" stroke-width="1.1"/>
<line x1="92.5" y1="692.2" x2="96.5" y2="692.2" stroke="#000" stroke-width="1.1"/>
<rect x="91.2" y="705.4" width="6.6" height="52.0" fill="#a0b37b"/>
<line x1="103.1" y1="710.7" x2="103.1" y2="692.2" stroke="#000" stroke-width="1.1"/>
<line x1="101.1" y1="692.2" x2="105.1" y2="692.2" stroke="#000" stroke-width="1.1"/>
<rect x="99.8" y="710.7" width="6.6" height="46.69999999999993" fill="#462b12"/>
<line x1="116.3" y1="701.3" x2="116.3" y2="680.6" stroke="#000" stroke-width="1.1"/>
<line x1="114.3" y1="680.6" x2="118.3" y2="680.6" stroke="#000" stroke-width="1.1"/>
<rect x="113.0" y="701.3" width="6.6" height="56.10000000000002" fill="#b3036d"/>
<line x1="124.89999999999999" y1="689.2" x2="124.89999999999999" y2="673.5" stroke="#000" stroke-width="1.1"/>
<line x1="122.89999999999999" y1="673.5" x2="126.89999999999999" y2="673.5" stroke="#000" stroke-width="1.1"/>
<rect x="121.6" y="689.2" width="6.6" height="68.19999999999993" fill="#91531f"/>
<line x1="133.5" y1="673.0" x2="133.5" y2="662.2" stroke="#000" stroke-width="1.1"/>
<line x1="131.5" y1="662.2" x2="135.5" y2="662.2" stroke="#000" stroke-width="1.1"/>
<rect x="130.2" y="673.0" width="6.6" height="84.39999999999998" fill="#a0b37b"/>
<line x1="142.10000000000002" y1="693.3" x2="142.10000000000002" y2="680.9" stroke="#000" stroke-width="1.1"/>
<line x1="140.10000000000002" y1="680.9" x2="144.10000000000002" y2="680.9" stroke="#000" stroke-width="1.1"/>
<rect x="138.8" y="693.3" width="6.6" height="64.10000000000002" fill="#462b12"/>
<line x1="155.10000000000002" y1="710.5" x2="155.10000000000002" y2="700.6" stroke="#000" stroke-width="1.1"/>
<line x1="153.10000000000002" y1="700.6" x2="157.10000000000002" y2="700.6" stroke="#000" stroke-width="1.1"/>
<rect x="151.8" y="710.5" width="6.6" height="46.89999999999998" fill="#b3036d"/>
<line x1="163.7" y1="691.2" x2="163.7" y2="687.1" stroke="#000" stroke-width="1.1"/>
<line x1="161.7" y1="687.1" x2="165.7" y2="687.1" stroke="#000" stroke-width="1.1"/>
<rect x="160.4" y="691.2" width="6.6" height="66.19999999999993" fill="#91531f"/>
<line x1="172.3" y1="673.1" x2="172.3" y2="666.9" stroke="#000" stroke-width="1.1"/>
<line x1="170.3" y1="666.9" x2="174.3" y2="666.9" stroke="#000" stroke-width="1.1"/>
<rect x="169.0" y="673.1" width="6.6" height="84.29999999999995" fill="#a0b37b"/>
<line x1="180.90000000000003" y1="715.4" x2="180.90000000000003" y2="701.4" stroke="#000" stroke-width="1.1"/>
<line x1="178.90000000000003" y1="701.4" x2="182.90000000000003" y2="701.4" stroke="#000" stroke-width="1.1"/>
<rect x="177.60000000000002" y="715.4" width="6.6" height="42.0" fill="#462b12"/>
<line x1="193.8" y1="738.8" x2="193.8" y2="738.0" stroke="#000" stroke-width="1.1"/>
<line x1="191.8" y1="738.0" x2="195.8" y2="738.0" stroke="#000" stroke-width="1.1"/>
<rect x="190.5" y="738.8" width="6.6" height="18.600000000000023" fill="#b3036d"/>
<line x1="202.39999999999998" y1="738.3" x2="202.39999999999998" y2="729.4" stroke="#000" stroke-width="1.1"/>
<line x1="200.39999999999998" y1="729.4" x2="204.39999999999998" y2="729.4" stroke="#000" stroke-width="1.1"/>
<rect x="199.1" y="738.3" width="6.6" height="19.100000000000023" fill="#91531f"/>
<line x1="211.0" y1="745.0" x2="211.0" y2="742.9" stroke="#000" stroke-width="1.1"/>
<line x1="209.0" y1="742.9" x2="213.0" y2="742.9" stroke="#000" stroke-width="1.1"/>
<rect x="207.7" y="745.0" width="6.6" height="12.399999999999977" fill="#a0b37b"/>
<line x1="219.60000000000002" y1="743.1" x2="219.60000000000002" y2="736.9" stroke="#000" stroke-width="1.1"/>
<line x1="217.60000000000002" y1="736.9" x2="221.60000000000002" y2="736.9" stroke="#000" stroke-width="1.1"/>
<rect x="216.3" y="743.1" width="6.6" height="14.299999999999955" fill="#462b12"/>
<line x1="84" y1="687.9" x2="94.2" y2="687.9" stroke="#000" stroke-width="1.15"/>
<circle cx="88.90" cy="684.10" r="1.2" fill="#2a2a2a"/>
<line x1="163.1" y1="655.4" x2="180" y2="655.4" stroke="#000" stroke-width="1.15"/>
<circle cx="171.50" cy="651.60" r="1.2" fill="#2a2a2a"/>
<line x1="160.9" y1="662.4" x2="170.8" y2="662.4" stroke="#000" stroke-width="1.15"/>
<circle cx="165.60" cy="658.60" r="1.2" fill="#2a2a2a"/>
<line x1="172.4" y1="662.5" x2="182.3" y2="662.5" stroke="#000" stroke-width="1.15"/>
<circle cx="175.05" cy="658.70" r="1.2" fill="#2a2a2a"/>
<circle cx="178.95" cy="658.70" r="1.2" fill="#2a2a2a"/>
<line x1="281.8" y1="649.8" x2="281.8" y2="757.4" stroke="#000" stroke-width="1.3"/>
<line x1="281.8" y1="757.4" x2="437.1" y2="757.4" stroke="#000" stroke-width="1.3"/>
<line x1="278.5" y1="757.4" x2="281.8" y2="757.4" stroke="#000" stroke-width="1.1"/>
<text x="275.2" y="760.3" font-size="8.2" text-anchor="end" fill="#231f20">0</text>
<line x1="278.5" y1="736.64" x2="281.8" y2="736.64" stroke="#000" stroke-width="1.1"/>
<text x="275.2" y="739.54" font-size="8.2" text-anchor="end" fill="#231f20">20</text>
<line x1="278.5" y1="715.88" x2="281.8" y2="715.88" stroke="#000" stroke-width="1.1"/>
<text x="275.2" y="718.78" font-size="8.2" text-anchor="end" fill="#231f20">40</text>
<line x1="278.5" y1="695.12" x2="281.8" y2="695.12" stroke="#000" stroke-width="1.1"/>
<text x="275.2" y="698.02" font-size="8.2" text-anchor="end" fill="#231f20">60</text>
<line x1="278.5" y1="674.36" x2="281.8" y2="674.36" stroke="#000" stroke-width="1.1"/>
<text x="275.2" y="677.26" font-size="8.2" text-anchor="end" fill="#231f20">80</text>
<line x1="278.5" y1="653.6" x2="281.8" y2="653.6" stroke="#000" stroke-width="1.1"/>
<text x="275.2" y="656.5" font-size="8.2" text-anchor="end" fill="#231f20">100</text>
<line x1="301.2" y1="757.4" x2="301.2" y2="760.8" stroke="#000" stroke-width="1.1"/>
<line x1="340.2" y1="757.4" x2="340.2" y2="760.8" stroke="#000" stroke-width="1.1"/>
<line x1="378.7" y1="757.4" x2="378.7" y2="760.8" stroke="#000" stroke-width="1.1"/>
<line x1="417.7" y1="757.4" x2="417.7" y2="760.8" stroke="#000" stroke-width="1.1"/>
<line x1="289.1" y1="687.1" x2="289.1" y2="666.3" stroke="#000" stroke-width="1.1"/>
<line x1="287.1" y1="666.3" x2="291.1" y2="666.3" stroke="#000" stroke-width="1.1"/>
<rect x="285.8" y="687.1" width="6.6" height="70.29999999999995" fill="#b3036d"/>
<line x1="297.70000000000005" y1="737.2" x2="297.70000000000005" y2="716.7" stroke="#000" stroke-width="1.1"/>
<line x1="295.70000000000005" y1="716.7" x2="299.70000000000005" y2="716.7" stroke="#000" stroke-width="1.1"/>
<rect x="294.40000000000003" y="737.2" width="6.6" height="20.199999999999932" fill="#91531f"/>
<line x1="306.3" y1="690.0" x2="306.3" y2="677.7" stroke="#000" stroke-width="1.1"/>
<line x1="304.3" y1="677.7" x2="308.3" y2="677.7" stroke="#000" stroke-width="1.1"/>
<rect x="303.0" y="690.0" width="6.6" height="67.39999999999998" fill="#a0b37b"/>
<line x1="314.90000000000003" y1="691.9" x2="314.90000000000003" y2="675.8" stroke="#000" stroke-width="1.1"/>
<line x1="312.90000000000003" y1="675.8" x2="316.90000000000003" y2="675.8" stroke="#000" stroke-width="1.1"/>
<rect x="311.6" y="691.9" width="6.6" height="65.5" fill="#462b12"/>
<line x1="327.90000000000003" y1="696.0" x2="327.90000000000003" y2="673.6" stroke="#000" stroke-width="1.1"/>
<line x1="325.90000000000003" y1="673.6" x2="329.90000000000003" y2="673.6" stroke="#000" stroke-width="1.1"/>
<rect x="324.6" y="696.0" width="6.6" height="61.39999999999998" fill="#b3036d"/>
<line x1="336.50000000000006" y1="676.3" x2="336.50000000000006" y2="670.4" stroke="#000" stroke-width="1.1"/>
<line x1="334.50000000000006" y1="670.4" x2="338.50000000000006" y2="670.4" stroke="#000" stroke-width="1.1"/>
<rect x="333.20000000000005" y="676.3" width="6.6" height="81.10000000000002" fill="#91531f"/>
<line x1="345.1" y1="665.0" x2="345.1" y2="662.3" stroke="#000" stroke-width="1.1"/>
<line x1="343.1" y1="662.3" x2="347.1" y2="662.3" stroke="#000" stroke-width="1.1"/>
<rect x="341.8" y="665.0" width="6.6" height="92.39999999999998" fill="#a0b37b"/>
<line x1="353.70000000000005" y1="691.4" x2="353.70000000000005" y2="683.0" stroke="#000" stroke-width="1.1"/>
<line x1="351.70000000000005" y1="683.0" x2="355.70000000000005" y2="683.0" stroke="#000" stroke-width="1.1"/>
<rect x="350.40000000000003" y="691.4" width="6.6" height="66.0" fill="#462b12"/>
<line x1="366.40000000000003" y1="731.0" x2="366.40000000000003" y2="727.5" stroke="#000" stroke-width="1.1"/>
<line x1="364.40000000000003" y1="727.5" x2="368.40000000000003" y2="727.5" stroke="#000" stroke-width="1.1"/>
<rect x="363.1" y="731.0" width="6.6" height="26.399999999999977" fill="#b3036d"/>
<line x1="375.00000000000006" y1="719.7" x2="375.00000000000006" y2="716.7" stroke="#000" stroke-width="1.1"/>
<line x1="373.00000000000006" y1="716.7" x2="377.00000000000006" y2="716.7" stroke="#000" stroke-width="1.1"/>
<rect x="371.70000000000005" y="719.7" width="6.6" height="37.69999999999993" fill="#91531f"/>
<line x1="383.6" y1="696.5" x2="383.6" y2="680.6" stroke="#000" stroke-width="1.1"/>
<line x1="381.6" y1="680.6" x2="385.6" y2="680.6" stroke="#000" stroke-width="1.1"/>
<rect x="380.3" y="696.5" width="6.6" height="60.89999999999998" fill="#a0b37b"/>
<line x1="392.20000000000005" y1="730.2" x2="392.20000000000005" y2="727.5" stroke="#000" stroke-width="1.1"/>
<line x1="390.20000000000005" y1="727.5" x2="394.20000000000005" y2="727.5" stroke="#000" stroke-width="1.1"/>
<rect x="388.90000000000003" y="730.2" width="6.6" height="27.199999999999932" fill="#462b12"/>
<line x1="405.40000000000003" y1="748.5" x2="405.40000000000003" y2="746.3" stroke="#000" stroke-width="1.1"/>
<line x1="403.40000000000003" y1="746.3" x2="407.40000000000003" y2="746.3" stroke="#000" stroke-width="1.1"/>
<rect x="402.1" y="748.5" width="6.6" height="8.899999999999977" fill="#b3036d"/>
<line x1="414.00000000000006" y1="744.4" x2="414.00000000000006" y2="735.5" stroke="#000" stroke-width="1.1"/>
<line x1="412.00000000000006" y1="735.5" x2="416.00000000000006" y2="735.5" stroke="#000" stroke-width="1.1"/>
<rect x="410.70000000000005" y="744.4" width="6.6" height="13.0" fill="#91531f"/>
<line x1="422.6" y1="750.6" x2="422.6" y2="749.3" stroke="#000" stroke-width="1.1"/>
<line x1="420.6" y1="749.3" x2="424.6" y2="749.3" stroke="#000" stroke-width="1.1"/>
<rect x="419.3" y="750.6" width="6.6" height="6.7999999999999545" fill="#a0b37b"/>
<line x1="431.20000000000005" y1="747.1" x2="431.20000000000005" y2="746.5" stroke="#000" stroke-width="1.1"/>
<line x1="429.20000000000005" y1="746.5" x2="433.20000000000005" y2="746.5" stroke="#000" stroke-width="1.1"/>
<rect x="427.90000000000003" y="747.1" width="6.6" height="10.299999999999955" fill="#462b12"/>
<line x1="287.7" y1="661.5" x2="298.5" y2="661.5" stroke="#000" stroke-width="1.15"/>
<circle cx="293.10" cy="657.70" r="1.2" fill="#2a2a2a"/>
<line x1="295.2" y1="673.6" x2="305.2" y2="673.6" stroke="#000" stroke-width="1.15"/>
<circle cx="299.80" cy="669.80" r="1.2" fill="#2a2a2a"/>
<line x1="334.3" y1="658.3" x2="344.8" y2="658.3" stroke="#000" stroke-width="1.15"/>
<circle cx="339.40" cy="654.50" r="1.2" fill="#2a2a2a"/>
<line x1="365.2" y1="669" x2="382" y2="669" stroke="#000" stroke-width="1.15"/>
<circle cx="373.90" cy="665.20" r="1.2" fill="#2a2a2a"/>
<line x1="372.5" y1="675.8" x2="382" y2="675.8" stroke="#000" stroke-width="1.15"/>
<circle cx="377.10" cy="672.00" r="1.2" fill="#2a2a2a"/>
<line x1="383.8" y1="675.8" x2="393.5" y2="675.8" stroke="#000" stroke-width="1.15"/>
<circle cx="386.65" cy="672.00" r="1.2" fill="#2a2a2a"/>
<circle cx="390.55" cy="672.00" r="1.2" fill="#2a2a2a"/>
<text x="41.4" y="703.85" font-size="11" text-anchor="middle" textLength="127.3" lengthAdjust="spacingAndGlyphs" transform="rotate(-90 41.4 703.85)" fill="#231f20">% donor Ki67+ CD4+ T cells</text>
<text x="252.7" y="703.85" font-size="11" text-anchor="middle" textLength="127.3" lengthAdjust="spacingAndGlyphs" transform="rotate(-90 252.7 703.85)" fill="#231f20">% donor Ki67+ CD8+ T cells</text>
<text x="93.2" y="768.5" font-size="8.2" text-anchor="end" textLength="38.5" lengthAdjust="spacingAndGlyphs" transform="rotate(-45 93.2 768.5)" fill="#231f20">EARLY ICA</text>
<text x="131.9" y="767.7" font-size="8.2" text-anchor="end" textLength="33.4" lengthAdjust="spacingAndGlyphs" transform="rotate(-45 131.9 767.7)" fill="#231f20">LATE ICA</text>
<text x="170.1" y="767.7" font-size="8.2" text-anchor="end" textLength="27.8" lengthAdjust="spacingAndGlyphs" transform="rotate(-45 170.1 767.7)" fill="#231f20">B6 CON</text>
<text x="206.5" y="768.3" font-size="8.2" text-anchor="end" textLength="49.6" lengthAdjust="spacingAndGlyphs" transform="rotate(-45 206.5 768.3)" fill="#231f20">B6 -&gt; B10.BR</text>
<text x="202.4" y="789.8" font-size="8.2" text-anchor="end" textLength="16.5" lengthAdjust="spacingAndGlyphs" transform="rotate(-45 202.4 789.8)" fill="#231f20">CON</text>
<text x="304.1" y="767.7" font-size="8.2" text-anchor="end" textLength="38.5" lengthAdjust="spacingAndGlyphs" transform="rotate(-45 304.1 767.7)" fill="#231f20">EARLY ICA</text>
<text x="344.5" y="767.7" font-size="8.2" text-anchor="end" textLength="33.4" lengthAdjust="spacingAndGlyphs" transform="rotate(-45 344.5 767.7)" fill="#231f20">LATE ICA</text>
<text x="383.0" y="767.7" font-size="8.2" text-anchor="end" textLength="27.8" lengthAdjust="spacingAndGlyphs" transform="rotate(-45 383.0 767.7)" fill="#231f20">B6 CON</text>
<text x="418.0" y="767.9" font-size="8.2" text-anchor="end" textLength="49.6" lengthAdjust="spacingAndGlyphs" transform="rotate(-45 418.0 767.9)" fill="#231f20">B6 -&gt; B10.BR</text>
<text x="414.2" y="789.4" font-size="8.2" text-anchor="end" textLength="16.5" lengthAdjust="spacingAndGlyphs" transform="rotate(-45 414.2 789.4)" fill="#231f20">CON</text>
<rect x="442.0" y="691.1" width="12.0" height="7.4" fill="#b3036d"/>
<rect x="442.0" y="706.0" width="12.0" height="7.4" fill="#91531f"/>
<rect x="442.0" y="720.3" width="12.0" height="7.4" fill="#a0b37b"/>
<rect x="442.0" y="735.0" width="12.0" height="7.4" fill="#462b12"/>
<text x="460.2" y="697.7" font-size="8.2" textLength="8.9" lengthAdjust="spacingAndGlyphs" fill="#231f20">B6</text>
<text x="460.2" y="712.7" font-size="8.2" textLength="24.6" lengthAdjust="spacingAndGlyphs" fill="#231f20">B10.BR</text>
<text x="460.2" y="726.8" font-size="8.2" textLength="13.5" lengthAdjust="spacingAndGlyphs" fill="#231f20">FVB</text>
<text x="460.2" y="741.5" font-size="8.2" textLength="48.8" lengthAdjust="spacingAndGlyphs" fill="#231f20">Unstimulated</text>
</svg></body></html>
